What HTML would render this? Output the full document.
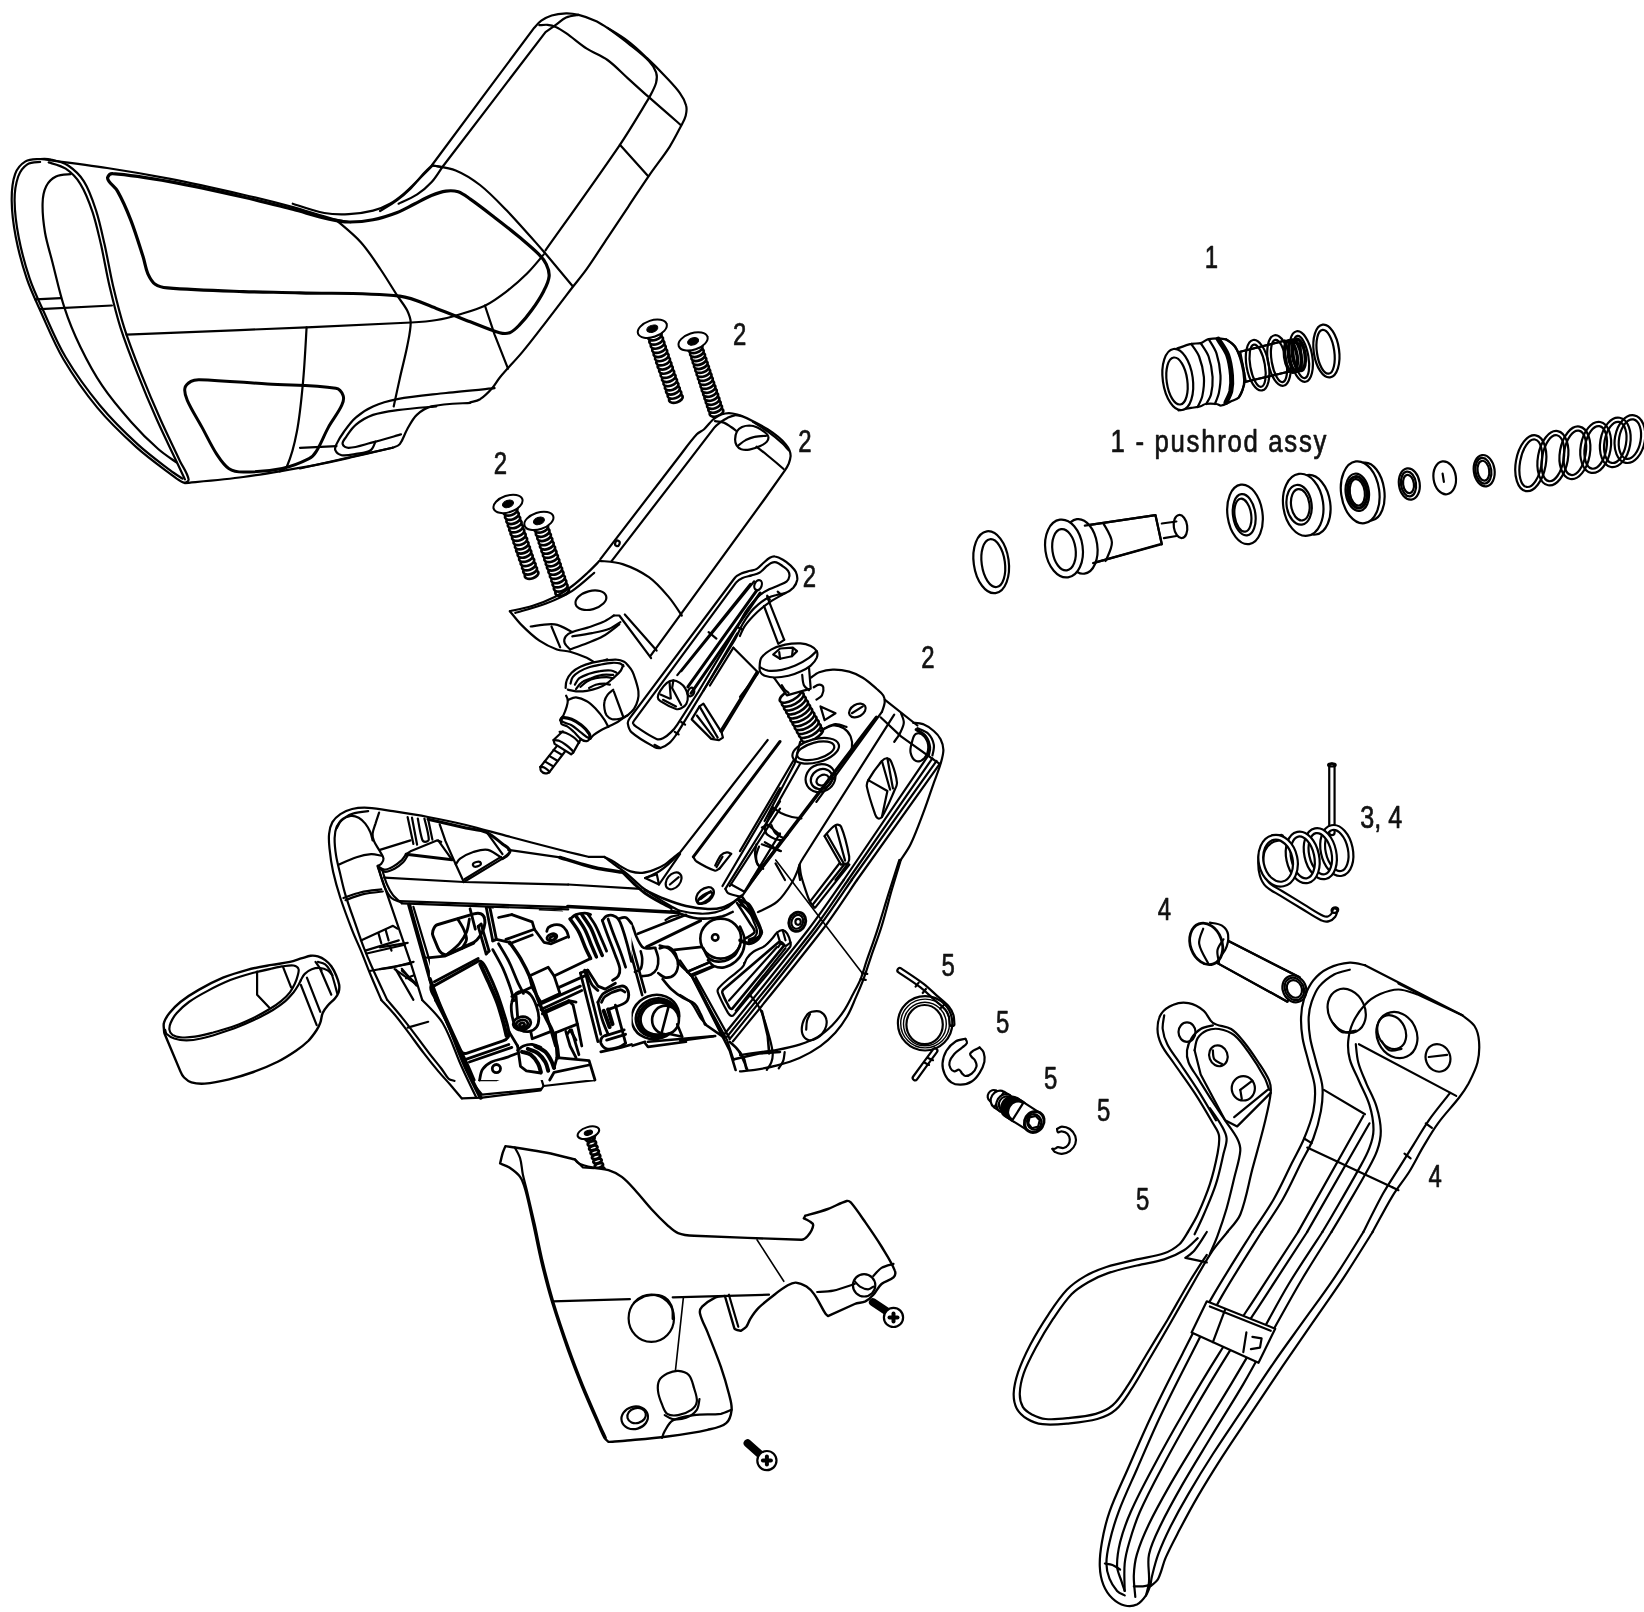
<!DOCTYPE html>
<html><head><meta charset="utf-8"><title>Exploded view</title>
<style>
html,body{margin:0;padding:0;background:#fff;}
body{width:1644px;height:1612px;overflow:hidden;}
svg{display:block;}
text{font-family:"Liberation Sans",sans-serif;fill:#111;}
</style></head><body>
<svg width="1644" height="1612" viewBox="0 0 1644 1612" stroke-linecap="round" stroke-linejoin="round">
<rect width="1644" height="1612" fill="#fff"/>
<g stroke-width="2.2" fill="none" stroke="#000">
<path d="M40.1 159.0C35.2 159.4 29.8 158.9 25.5 161.4C20.9 164.2 16.9 168.9 15.1 174.1C12.1 182.5 11.6 191.8 11.7 200.8C11.8 213.1 13.5 225.3 15.8 237.3C18.5 251.3 22.3 265.2 26.8 278.7C30.4 289.5 35.4 299.9 40.1 310.3C47.6 326.7 54.2 343.5 63.3 359.0C73.3 376.0 84.7 392.4 97.3 407.6C109.1 421.9 122.6 434.7 136.3 447.1C147.0 456.8 158.8 465.2 170.3 473.8C174.6 477.0 178.6 481.0 183.7 482.6C185.5 483.1 188.9 481.3 188.6 479.4C187.4 472.8 182.9 467.2 180.0 461.2C173.6 447.4 166.8 433.7 160.6 419.8C153.8 404.5 147.3 389.1 141.1 373.6C135.1 358.3 129.1 343.0 124.1 327.3C119.7 313.8 116.4 299.9 113.1 286.0C109.9 272.3 107.7 258.4 104.6 244.6C102.0 233.2 99.7 221.7 96.1 210.6C92.8 200.5 89.5 190.3 83.9 181.4C80.0 175.0 74.3 169.7 68.1 165.5C63.1 162.2 57.0 160.8 51.1 159.5C47.5 158.6 43.8 158.7 40.1 159.0Z"/>
<path d="M40.1 161.9C38.0 162.3 30.9 161.9 27.3 164.3C23.1 167.1 19.9 171.7 18.2 176.5C15.6 184.2 14.5 192.6 14.6 200.8C14.7 213.1 16.4 225.3 18.7 237.3C21.4 251.3 25.2 265.2 29.7 278.7C33.3 289.5 38.3 299.9 43.1 310.3C50.3 326.1 56.8 342.4 65.7 357.3C75.7 374.1 87.3 390.1 99.8 405.2C111.3 419.1 124.2 431.9 137.5 444.1C147.8 453.7 159.2 461.9 170.3 470.4C174.2 473.4 180.5 477.3 182.5 478.7"/>
<path d="M48.7 162.4C51.5 163.4 60.7 165.3 65.7 168.7C71.5 172.6 76.6 177.9 80.3 183.8C85.7 192.4 89.2 202.1 92.5 211.8C96.1 222.5 98.4 233.6 101.0 244.6C104.1 258.3 106.3 272.3 109.5 286.0C112.8 299.9 116.1 313.8 120.4 327.3C125.4 343.0 131.4 358.3 137.5 373.6C143.6 389.1 150.1 404.5 156.9 419.8C163.1 433.7 169.9 447.4 176.4 461.2C179.3 467.2 183.5 476.4 184.9 479.4"/>
<path d="M70.6 174.1C68.1 174.5 60.4 174.3 56.0 176.5C51.9 178.5 48.3 182.1 46.2 186.2C43.6 191.4 42.7 197.5 42.6 203.3C42.3 213.0 43.4 222.8 45.0 232.5C46.7 242.4 49.8 251.9 52.3 261.7C56.3 277.1 59.5 292.7 64.5 307.9C68.8 321.2 74.2 334.2 80.3 346.8C86.8 360.2 93.8 373.4 102.2 385.7C110.9 398.6 121.1 410.6 131.4 422.2C139.7 431.7 148.7 440.6 158.2 449.0C163.8 454.0 173.4 460.2 176.4 462.4"/>
<path d="M35.3 299.4L60.8 298.2"/>
<path d="M40.1 309.1L111.9 305.5"/>
<path d="M40.1 159.0C51.3 160.5 84.8 164.6 107.1 168.0C128.2 171.2 149.3 174.8 170.3 178.9C194.7 183.7 219.0 189.2 243.3 194.7C259.6 198.5 275.8 202.5 292.0 206.9C305.8 210.7 319.4 215.4 333.3 219.1C338.9 220.5 347.5 221.7 350.4 222.2"/>
<path d="M126.5 334.6C156.5 333.4 246.6 329.9 306.6 327.3C341.4 325.9 376.3 324.4 411.2 322.5C419.7 322.0 428.3 321.4 436.7 320.0C444.2 318.8 451.4 316.9 458.6 314.7C467.7 312.0 476.9 309.6 485.4 305.5C493.3 301.6 500.3 296.2 507.3 290.9C514.1 285.6 520.7 279.9 526.8 273.8C532.9 267.7 541.0 257.6 543.8 254.4"/>
<path d="M306.6 327.3C306.0 336.7 304.7 364.7 302.9 383.3C301.4 399.6 299.9 415.9 296.8 432.0C294.6 443.6 291.8 455.2 287.1 466.0C285.9 468.8 281.0 470.5 279.8 471.4"/>
<path d="M184.9 483.1C194.6 482.1 223.9 479.7 243.3 477.0C267.7 473.6 292.0 469.2 316.3 464.8C327.7 462.7 339.0 460.1 350.4 457.5C364.4 454.4 385.4 449.4 392.5 447.8"/>
</g>
<g stroke-width="3" fill="none" stroke="#000">
<path d="M199.5 379.7C222.3 380.5 244.9 382.6 267.6 384.0C290.3 385.5 313.3 384.8 335.8 388.2C339.2 388.7 341.9 392.2 343.1 395.5C344.2 398.6 343.2 402.2 341.8 405.2C338.3 413.0 332.6 419.6 328.5 427.1C324.1 435.0 321.1 443.7 316.3 451.4C314.5 454.4 312.1 457.2 309.0 458.7C300.5 463.0 291.5 466.6 282.2 468.5C269.5 471.1 256.3 472.1 243.3 472.1C238.3 472.1 232.9 471.3 228.7 468.5C223.5 464.9 220.0 459.2 216.5 453.9C211.0 445.3 206.8 436.0 201.9 427.1C197.1 418.2 191.4 409.7 187.3 400.3C185.7 396.6 184.1 392.2 184.9 388.2C185.5 385.2 188.4 382.9 191.0 381.4C193.5 379.9 196.6 379.6 199.5 379.7Z"/>
</g>
<g stroke-width="3.2" fill="none" stroke="#000">
<path d="M107.8 177.0C108.6 175.2 110.7 173.4 112.7 173.6C132.3 175.1 151.7 178.4 171.0 181.8C195.5 186.2 219.8 191.7 244.0 197.2C260.3 200.9 276.5 205.2 292.7 209.3C304.9 212.5 316.9 216.3 329.2 219.1C335.6 220.5 342.1 221.9 348.7 222.0C356.8 222.1 365.0 221.4 373.0 219.8C381.3 218.2 389.4 215.5 397.3 212.5C403.3 210.2 408.7 206.8 414.4 204.0C420.0 201.2 425.5 197.9 431.4 195.5C436.1 193.6 441.0 191.8 446.0 191.1C450.0 190.5 454.3 190.6 458.2 191.8C462.6 193.3 466.4 196.4 470.3 199.1C478.6 204.9 486.6 211.2 494.6 217.4C502.9 223.7 511.0 230.2 519.0 236.8C525.6 242.4 532.3 247.8 538.4 253.9C541.5 256.9 544.4 260.2 546.2 264.1C548.0 267.8 549.5 272.1 549.1 276.3C548.7 281.4 546.2 286.2 543.8 290.9C540.3 297.7 536.1 304.1 531.6 310.3C527.9 315.5 523.9 320.4 519.5 324.9C516.6 327.9 513.6 331.2 509.7 332.7C506.6 333.9 502.8 333.6 499.5 332.7C489.5 329.9 480.0 325.5 470.3 321.8C458.9 317.4 447.7 312.5 436.3 308.4C424.2 304.0 412.5 297.7 399.8 296.2C366.7 292.4 333.3 293.8 300.0 292.8C281.1 292.2 262.2 292.3 243.3 291.6C218.0 290.7 192.6 290.0 167.4 287.9C163.2 287.6 158.7 286.8 155.2 284.3C151.8 281.8 149.7 277.7 147.9 273.8C145.5 268.4 144.9 262.4 143.1 256.8C139.2 244.6 135.5 232.2 130.9 220.3C127.0 210.3 122.8 200.4 117.5 191.1C115.4 187.3 111.4 184.9 109.0 181.4C108.1 180.1 107.1 178.4 107.8 177.0Z"/>
</g>
<g stroke-width="2.2" fill="none" stroke="#000">
<path d="M292.7 203.7C298.0 205.3 313.5 211.0 324.3 213.0C332.3 214.5 340.6 214.6 348.7 214.2C356.9 213.8 365.0 212.6 373.0 210.6C378.9 209.1 384.7 206.7 390.0 203.7C395.3 200.8 400.0 196.9 404.6 193.0C409.8 188.7 414.4 183.7 419.2 178.9C423.7 174.5 430.4 167.8 432.6 165.5"/>
<path d="M336.5 220.3C340.6 223.9 353.5 234.1 360.8 242.2C368.2 250.4 374.1 259.8 380.3 269.0C386.2 277.7 391.6 286.8 397.3 295.7C400.5 300.6 404.4 305.1 407.1 310.3C408.9 314.1 410.7 318.2 410.7 322.5C410.7 330.7 408.6 338.8 407.1 346.8C405.0 357.4 402.1 367.9 399.8 378.4C397.7 387.8 394.7 401.8 393.7 406.4"/>
<path d="M432.6 165.5C436.5 166.4 448.4 167.4 455.7 170.4C464.5 174.0 472.6 179.2 480.0 185.0C489.7 192.6 498.2 201.7 506.8 210.6C515.2 219.2 523.1 228.4 531.1 237.3C535.6 242.3 542.3 249.9 544.5 252.4"/>
<path d="M544.5 252.4L572.5 286.0"/>
<path d="M484.9 305.5L494.6 334.6L508.0 368.7"/>
<path d="M494.6 388.2C486.5 389.0 462.2 391.2 446.0 393.0C429.7 394.9 413.4 396.2 397.3 399.1C389.0 400.7 380.7 403.0 373.0 406.4C366.8 409.1 361.0 412.9 356.0 417.4C351.2 421.5 347.5 426.8 343.8 432.0C341.0 435.8 338.5 439.9 336.5 444.1C335.6 446.0 334.4 448.3 335.3 450.2C336.3 452.6 338.8 454.6 341.4 455.1C346.2 455.9 351.1 454.7 356.0 453.9C360.9 453.0 366.3 452.9 370.6 450.2C373.3 448.5 374.6 443.1 375.4 441.7"/>
<path d="M436.3 406.4C429.8 407.0 410.2 408.3 397.3 410.1C389.1 411.2 380.8 412.2 373.0 414.9C366.8 417.1 361.0 420.5 356.0 424.7C351.9 428.0 349.2 432.6 346.2 436.8C344.7 439.1 342.0 441.5 342.6 444.1C343.1 446.4 346.3 447.9 348.7 447.8C356.1 447.5 363.3 444.8 370.6 442.9C380.8 440.3 395.9 435.8 401.0 434.4"/>
<path d="M470.3 402.8C463.8 403.4 444.1 403.5 431.4 406.4C425.9 407.7 420.9 411.1 416.8 414.9C412.5 419.0 410.0 424.5 407.1 429.5C404.3 434.2 403.2 439.9 399.8 444.1C398.1 446.3 393.7 447.2 392.5 447.8"/>
<path d="M392.5 447.8L348.7 457.5L300.0 468.5"/>
<path d="M300.0 447.8L336.5 446.1"/>
<path d="M380.0 211.0C382.8 209.2 391.3 204.5 396.5 200.6C401.7 196.9 406.5 192.7 411.0 188.2C415.5 183.7 419.2 178.4 423.4 173.7C426.1 170.8 430.3 166.8 431.7 165.5C448.8 142.5 517.0 50.8 534.1 27.9C535.3 26.7 538.5 22.7 541.3 20.7C544.5 18.5 548.0 16.6 551.7 15.5C556.3 14.1 561.3 13.6 566.1 13.4C570.3 13.3 574.5 13.9 578.6 14.9C584.2 16.3 589.8 18.3 595.1 20.7C599.5 22.6 603.4 25.4 607.5 27.9C614.5 32.3 621.7 36.4 628.2 41.4C634.8 46.4 640.8 52.2 646.8 57.9C653.2 63.9 659.4 70.1 665.4 76.5C670.4 81.9 675.6 87.1 679.9 93.1C682.6 96.8 685.0 101.0 686.1 105.5C687.0 108.8 686.5 112.5 685.7 115.8C684.8 119.5 682.7 122.8 680.9 126.2C677.3 133.1 673.8 140.2 669.6 146.8C663.1 156.8 655.6 166.0 648.9 175.8C641.8 186.0 635.1 196.5 628.2 206.8C621.3 217.2 614.4 227.5 607.5 237.8C600.6 248.2 594.0 258.7 586.8 268.9C582.3 275.3 577.1 281.3 572.3 287.5C563.4 299.2 554.5 311.0 545.5 322.6C537.9 332.4 530.6 342.2 522.7 351.6C515.4 360.4 507.3 368.5 500.0 377.2C497.1 380.7 495.1 384.9 492.1 388.2C488.5 392.2 484.6 396.2 480.1 399.2C477.2 401.0 472.0 401.8 470.4 402.3"/>
<path d="M398.6 203.7C401.7 202.2 411.4 198.2 417.2 194.4C422.5 190.9 427.4 186.7 431.7 182.0C435.7 177.6 440.3 169.9 442.0 167.5C459.3 145.0 528.2 54.6 545.5 32.1C547.2 30.9 552.4 27.2 555.8 24.8C559.2 22.4 562.3 19.3 566.1 17.6C570.0 15.9 576.5 15.3 578.6 14.9"/>
<path d="M431.7 165.5C433.4 165.7 440.3 166.8 442.0 167.1"/>
<path d="M539.3 25.2C540.6 25.2 544.8 24.5 547.5 24.8C550.4 25.1 553.2 25.7 555.8 26.9C559.5 28.5 562.8 30.8 566.1 33.1C573.2 38.0 579.6 43.9 586.8 48.6C593.4 52.9 601.1 55.4 607.5 60.0C615.0 65.4 621.3 72.4 628.2 78.6C635.1 84.8 641.9 91.1 648.9 97.2C659.5 106.6 675.6 120.5 680.9 125.1"/>
<path d="M607.5 27.9C611.0 30.5 621.5 38.0 628.2 43.4C635.3 49.1 642.6 54.5 648.9 61.0C652.0 64.2 654.7 68.1 656.1 72.4C657.2 75.7 657.0 79.4 656.1 82.7C654.6 88.2 650.1 95.7 648.9 98.2C644.0 106.0 630.2 129.7 619.9 144.8C595.7 180.4 557.9 232.7 545.5 250.3"/>
<path d="M619.9 144.8L647.8 175.8"/>
</g>
<g stroke-width="2.7" fill="#fff" stroke="#000">
<ellipse cx="675.9" cy="398.5" rx="7.1" ry="3.9" transform="rotate(161.3 675.9 398.5)"/>
<ellipse cx="674.5" cy="394.4" rx="7.1" ry="3.9" transform="rotate(161.3 674.5 394.4)"/>
<ellipse cx="673.0" cy="390.2" rx="7.1" ry="3.9" transform="rotate(161.3 673.0 390.2)"/>
<ellipse cx="671.6" cy="386.0" rx="7.1" ry="3.9" transform="rotate(161.3 671.6 386.0)"/>
<ellipse cx="670.2" cy="381.9" rx="7.1" ry="3.9" transform="rotate(161.3 670.2 381.9)"/>
<ellipse cx="668.8" cy="377.7" rx="7.1" ry="3.9" transform="rotate(161.3 668.8 377.7)"/>
<ellipse cx="667.4" cy="373.6" rx="7.1" ry="3.9" transform="rotate(161.3 667.4 373.6)"/>
<ellipse cx="666.0" cy="369.4" rx="7.1" ry="3.9" transform="rotate(161.3 666.0 369.4)"/>
<ellipse cx="664.6" cy="365.2" rx="7.1" ry="3.9" transform="rotate(161.3 664.6 365.2)"/>
<ellipse cx="663.2" cy="361.1" rx="7.1" ry="3.9" transform="rotate(161.3 663.2 361.1)"/>
<ellipse cx="661.8" cy="356.9" rx="7.1" ry="3.9" transform="rotate(161.3 661.8 356.9)"/>
<ellipse cx="660.4" cy="352.7" rx="7.1" ry="3.9" transform="rotate(161.3 660.4 352.7)"/>
<ellipse cx="659.0" cy="348.6" rx="7.1" ry="3.9" transform="rotate(161.3 659.0 348.6)"/>
<ellipse cx="657.6" cy="344.4" rx="7.1" ry="3.9" transform="rotate(161.3 657.6 344.4)"/>
<ellipse cx="656.2" cy="340.3" rx="7.1" ry="3.9" transform="rotate(161.3 656.2 340.3)"/>
<ellipse cx="654.8" cy="336.1" rx="7.1" ry="3.9" transform="rotate(161.3 654.8 336.1)"/>
</g>
<g stroke-width="1.8" fill="#000" stroke="#000">
<path d="M666.6 323.9 L661.4 333.8 L648.1 338.3 L638.0 333.5 Z"/>
</g>
<g stroke-width="2" fill="#fff" stroke="#000">
<ellipse cx="652.3" cy="328.7" rx="15.1" ry="8.3" transform="rotate(161.3 652.3 328.7)"/>
</g>
<g stroke-width="1" fill="#000" stroke="#000">
<ellipse cx="652.3" cy="328.7" rx="5.7" ry="3.5" transform="rotate(161.3 652.3 328.7)"/>
</g>
<g stroke-width="2.7" fill="#fff" stroke="#000">
<ellipse cx="716.5" cy="412.4" rx="7.1" ry="3.9" transform="rotate(161.8 716.5 412.4)"/>
<ellipse cx="715.2" cy="408.4" rx="7.1" ry="3.9" transform="rotate(161.8 715.2 408.4)"/>
<ellipse cx="713.9" cy="404.5" rx="7.1" ry="3.9" transform="rotate(161.8 713.9 404.5)"/>
<ellipse cx="712.6" cy="400.5" rx="7.1" ry="3.9" transform="rotate(161.8 712.6 400.5)"/>
<ellipse cx="711.3" cy="396.5" rx="7.1" ry="3.9" transform="rotate(161.8 711.3 396.5)"/>
<ellipse cx="710.0" cy="392.5" rx="7.1" ry="3.9" transform="rotate(161.8 710.0 392.5)"/>
<ellipse cx="708.6" cy="388.5" rx="7.1" ry="3.9" transform="rotate(161.8 708.6 388.5)"/>
<ellipse cx="707.3" cy="384.6" rx="7.1" ry="3.9" transform="rotate(161.8 707.3 384.6)"/>
<ellipse cx="706.0" cy="380.6" rx="7.1" ry="3.9" transform="rotate(161.8 706.0 380.6)"/>
<ellipse cx="704.7" cy="376.6" rx="7.1" ry="3.9" transform="rotate(161.8 704.7 376.6)"/>
<ellipse cx="703.4" cy="372.6" rx="7.1" ry="3.9" transform="rotate(161.8 703.4 372.6)"/>
<ellipse cx="702.1" cy="368.6" rx="7.1" ry="3.9" transform="rotate(161.8 702.1 368.6)"/>
<ellipse cx="700.8" cy="364.7" rx="7.1" ry="3.9" transform="rotate(161.8 700.8 364.7)"/>
<ellipse cx="699.5" cy="360.7" rx="7.1" ry="3.9" transform="rotate(161.8 699.5 360.7)"/>
<ellipse cx="698.2" cy="356.7" rx="7.1" ry="3.9" transform="rotate(161.8 698.2 356.7)"/>
<ellipse cx="696.9" cy="352.7" rx="7.1" ry="3.9" transform="rotate(161.8 696.9 352.7)"/>
<ellipse cx="695.6" cy="348.8" rx="7.1" ry="3.9" transform="rotate(161.8 695.6 348.8)"/>
</g>
<g stroke-width="1.8" fill="#000" stroke="#000">
<path d="M707.5 336.7 L702.3 346.6 L688.9 351.0 L678.8 346.1 Z"/>
</g>
<g stroke-width="2" fill="#fff" stroke="#000">
<ellipse cx="693.1" cy="341.4" rx="15.1" ry="8.3" transform="rotate(161.8 693.1 341.4)"/>
</g>
<g stroke-width="1" fill="#000" stroke="#000">
<ellipse cx="693.1" cy="341.4" rx="5.7" ry="3.5" transform="rotate(161.8 693.1 341.4)"/>
</g>
<g stroke-width="2.7" fill="#fff" stroke="#000">
<ellipse cx="531.6" cy="574.5" rx="7.1" ry="3.9" transform="rotate(161.5 531.6 574.5)"/>
<ellipse cx="530.2" cy="570.2" rx="7.1" ry="3.9" transform="rotate(161.5 530.2 570.2)"/>
<ellipse cx="528.8" cy="566.0" rx="7.1" ry="3.9" transform="rotate(161.5 528.8 566.0)"/>
<ellipse cx="527.4" cy="561.8" rx="7.1" ry="3.9" transform="rotate(161.5 527.4 561.8)"/>
<ellipse cx="525.9" cy="557.6" rx="7.1" ry="3.9" transform="rotate(161.5 525.9 557.6)"/>
<ellipse cx="524.5" cy="553.4" rx="7.1" ry="3.9" transform="rotate(161.5 524.5 553.4)"/>
<ellipse cx="523.1" cy="549.2" rx="7.1" ry="3.9" transform="rotate(161.5 523.1 549.2)"/>
<ellipse cx="521.7" cy="545.0" rx="7.1" ry="3.9" transform="rotate(161.5 521.7 545.0)"/>
<ellipse cx="520.3" cy="540.8" rx="7.1" ry="3.9" transform="rotate(161.5 520.3 540.8)"/>
<ellipse cx="518.9" cy="536.5" rx="7.1" ry="3.9" transform="rotate(161.5 518.9 536.5)"/>
<ellipse cx="517.5" cy="532.3" rx="7.1" ry="3.9" transform="rotate(161.5 517.5 532.3)"/>
<ellipse cx="516.1" cy="528.1" rx="7.1" ry="3.9" transform="rotate(161.5 516.1 528.1)"/>
<ellipse cx="514.7" cy="523.9" rx="7.1" ry="3.9" transform="rotate(161.5 514.7 523.9)"/>
<ellipse cx="513.3" cy="519.7" rx="7.1" ry="3.9" transform="rotate(161.5 513.3 519.7)"/>
<ellipse cx="511.9" cy="515.5" rx="7.1" ry="3.9" transform="rotate(161.5 511.9 515.5)"/>
<ellipse cx="510.5" cy="511.3" rx="7.1" ry="3.9" transform="rotate(161.5 510.5 511.3)"/>
</g>
<g stroke-width="1.8" fill="#000" stroke="#000">
<path d="M522.3 499.1 L517.1 509.0 L503.8 513.5 L493.7 508.7 Z"/>
</g>
<g stroke-width="2" fill="#fff" stroke="#000">
<ellipse cx="508.0" cy="503.9" rx="15.1" ry="8.3" transform="rotate(161.5 508.0 503.9)"/>
</g>
<g stroke-width="1" fill="#000" stroke="#000">
<ellipse cx="508.0" cy="503.9" rx="5.7" ry="3.5" transform="rotate(161.5 508.0 503.9)"/>
</g>
<g stroke-width="2.7" fill="#fff" stroke="#000">
<ellipse cx="562.2" cy="591.5" rx="7.1" ry="3.9" transform="rotate(161.7 562.2 591.5)"/>
<ellipse cx="560.8" cy="587.3" rx="7.1" ry="3.9" transform="rotate(161.7 560.8 587.3)"/>
<ellipse cx="559.5" cy="583.1" rx="7.1" ry="3.9" transform="rotate(161.7 559.5 583.1)"/>
<ellipse cx="558.1" cy="578.9" rx="7.1" ry="3.9" transform="rotate(161.7 558.1 578.9)"/>
<ellipse cx="556.7" cy="574.6" rx="7.1" ry="3.9" transform="rotate(161.7 556.7 574.6)"/>
<ellipse cx="555.3" cy="570.4" rx="7.1" ry="3.9" transform="rotate(161.7 555.3 570.4)"/>
<ellipse cx="553.9" cy="566.2" rx="7.1" ry="3.9" transform="rotate(161.7 553.9 566.2)"/>
<ellipse cx="552.5" cy="562.0" rx="7.1" ry="3.9" transform="rotate(161.7 552.5 562.0)"/>
<ellipse cx="551.1" cy="557.8" rx="7.1" ry="3.9" transform="rotate(161.7 551.1 557.8)"/>
<ellipse cx="549.7" cy="553.6" rx="7.1" ry="3.9" transform="rotate(161.7 549.7 553.6)"/>
<ellipse cx="548.3" cy="549.4" rx="7.1" ry="3.9" transform="rotate(161.7 548.3 549.4)"/>
<ellipse cx="546.9" cy="545.2" rx="7.1" ry="3.9" transform="rotate(161.7 546.9 545.2)"/>
<ellipse cx="545.5" cy="540.9" rx="7.1" ry="3.9" transform="rotate(161.7 545.5 540.9)"/>
<ellipse cx="544.1" cy="536.7" rx="7.1" ry="3.9" transform="rotate(161.7 544.1 536.7)"/>
<ellipse cx="542.7" cy="532.5" rx="7.1" ry="3.9" transform="rotate(161.7 542.7 532.5)"/>
<ellipse cx="541.3" cy="528.3" rx="7.1" ry="3.9" transform="rotate(161.7 541.3 528.3)"/>
</g>
<g stroke-width="1.8" fill="#000" stroke="#000">
<path d="M553.2 516.2 L548.0 526.1 L534.6 530.5 L524.6 525.7 Z"/>
</g>
<g stroke-width="2" fill="#fff" stroke="#000">
<ellipse cx="538.9" cy="520.9" rx="15.1" ry="8.3" transform="rotate(161.7 538.9 520.9)"/>
</g>
<g stroke-width="1" fill="#000" stroke="#000">
<ellipse cx="538.9" cy="520.9" rx="5.7" ry="3.5" transform="rotate(161.7 538.9 520.9)"/>
</g>
<g stroke-width="2.2" fill="white" stroke="#000">
<path d="M600.4 559.1L680.0 455.5C685.5 448.3 690.7 440.9 696.8 434.3C698.8 432.1 701.9 431.2 704.1 429.2C707.3 426.3 709.7 422.6 712.8 419.7C714.6 418.1 716.6 416.7 718.7 415.7C720.8 414.7 723.0 413.9 725.3 413.5C727.7 413.1 730.1 413.1 732.6 413.5C735.8 414.0 739.0 414.9 742.0 416.1C745.8 417.5 749.4 419.3 753.0 421.2C757.9 423.7 762.9 426.2 767.6 429.2C771.4 431.6 775.1 434.3 778.5 437.2C781.2 439.4 783.6 441.9 785.8 444.5C787.3 446.3 788.6 448.2 789.5 450.4C790.2 452.2 790.7 454.2 790.6 456.2C790.4 458.7 789.7 461.2 788.8 463.5C787.8 465.8 786.6 468.0 785.1 470.1L763.9 500.0L650.3 656.2"/>
</g>
<g stroke-width="2.2" fill="none" stroke="#000">
<path d="M611.4 561.3L680.0 472.3L714.3 427.7C716.1 425.4 718.5 423.7 720.9 421.9C722.9 420.4 725.1 419.0 727.4 417.9C729.8 416.8 732.2 415.6 734.7 415.3C737.2 415.0 740.8 416.1 742.0 416.2"/>
<path d="M715.0 421.2C716.5 421.4 721.0 421.6 723.8 422.6C726.5 423.6 728.7 425.4 731.1 427.0C733.1 428.4 736.0 430.7 736.9 431.4"/>
<path d="M736.9 431.4C738.0 429.4 740.0 428.0 742.0 427.0C744.3 426.0 746.9 425.5 749.3 425.5C752.1 425.6 754.8 426.3 757.4 427.4C760.0 428.5 762.4 430.3 764.7 432.1C766.1 433.3 767.9 434.6 768.3 436.5C768.7 438.2 768.0 440.3 766.9 441.6C765.2 443.6 762.7 444.9 760.3 446.0C756.8 447.6 753.1 449.0 749.3 449.6C746.7 450.1 743.8 450.1 741.3 449.3C739.4 448.6 737.7 447.0 736.6 445.3C735.5 443.6 735.1 441.4 735.1 439.4C735.2 436.7 735.6 433.8 736.9 431.4Z"/>
<path d="M738.4 445.3C739.6 444.4 743.1 441.5 745.7 440.1C748.5 438.7 751.4 437.5 754.5 436.9C758.3 436.0 764.2 435.9 766.1 435.8"/>
<path d="M756.6 446.7C758.5 448.2 764.0 452.5 767.6 455.5C773.0 459.9 781.0 466.7 783.6 469.0"/>
<path d="M753.0 421.9C755.4 423.5 762.9 428.0 767.6 431.4C772.6 435.0 777.5 438.9 782.2 443.1C784.6 445.3 787.7 449.1 788.8 450.4"/>
<path d="M599.6 560.8C597.6 562.8 591.8 569.0 587.6 572.8C582.6 577.4 577.7 582.0 572.3 586.0C566.7 590.1 560.9 593.9 554.7 596.9C547.7 600.4 540.3 603.3 532.8 605.7C525.3 608.1 513.7 610.3 509.9 611.2"/>
<path d="M594.2 572.8C590.5 575.8 580.2 585.7 572.3 590.8C564.1 596.0 555.1 600.0 546.0 603.5C536.0 607.4 520.4 611.3 515.3 612.9"/>
<ellipse cx="590.9" cy="600.2" rx="15.8" ry="9.2" transform="rotate(-15.0 590.9 600.2)"/>
<path d="M599.6 560.8C603.5 561.4 615.3 561.6 622.6 564.1C631.9 567.2 640.9 571.5 648.9 577.2C656.5 582.6 662.6 589.9 668.6 596.9C673.6 602.7 679.6 612.4 681.8 615.5"/>
<ellipse cx="617.4" cy="543.3" rx="2.2" ry="2.8" transform="rotate(20.0 617.4 543.3)"/>
<path d="M651.1 658.2L619.3 615.5L613.9 615.5"/>
<path d="M656.6 650.6L624.8 614.5"/>
<path d="M613.9 615.5C612.0 616.6 606.8 620.3 602.9 622.1C598.0 624.4 592.8 625.9 587.6 627.6C582.5 629.2 577.2 630.0 572.3 632.0C569.8 632.9 567.2 634.2 565.7 636.3C564.4 638.2 563.9 640.8 564.6 642.9C565.5 645.6 569.2 648.4 570.1 649.5"/>
<path d="M509.9 611.2C511.9 613.5 517.5 621.0 521.9 625.4C527.4 630.9 533.0 636.3 539.4 640.7C544.8 644.4 550.8 647.3 556.9 649.5C561.1 651.0 565.8 650.5 570.1 651.7C576.1 653.4 581.8 655.8 587.6 658.2C590.6 659.5 593.1 662.4 596.3 662.6C600.2 662.8 605.5 659.9 607.3 659.3"/>
<path d="M530.7 626.5C534.7 626.1 546.8 623.3 554.7 624.3C561.1 625.1 569.3 630.7 572.3 632.0"/>
<path d="M551.5 626.5L560.2 647.3"/>
<path d="M570.1 649.5C573.0 648.4 581.8 645.2 587.6 642.9C592.8 640.9 598.1 639.2 602.9 636.3C608.8 632.9 616.6 626.3 619.3 624.3"/>
<path d="M572.3 636.3C575.5 635.8 585.4 634.4 592.0 633.1C597.9 631.9 603.9 630.8 609.5 628.7C613.5 627.2 618.6 623.2 620.4 622.1"/>
</g>
<g stroke-width="2.2" fill="white" stroke="#000">
<path d="M565.6 688.0C565.8 686.8 565.7 682.8 566.7 680.4C567.8 677.5 569.5 674.8 571.6 672.7C574.1 670.2 577.2 668.2 580.4 666.7C584.2 664.8 588.3 663.6 592.4 662.6C596.7 661.6 601.1 661.0 605.5 660.4C609.2 660.0 612.8 659.3 616.5 659.6C619.1 659.7 621.8 660.5 624.2 661.8C626.0 662.7 627.2 664.5 628.5 666.1C630.0 667.8 631.4 669.6 632.4 671.6C633.8 674.4 634.7 677.4 635.7 680.4C636.8 684.0 638.0 687.6 638.4 691.3C638.7 694.2 638.6 697.2 637.8 700.1C637.1 703.2 635.8 706.2 634.0 708.8C632.3 711.4 629.8 713.4 627.4 715.4C626.1 716.5 624.5 717.2 623.1 718.1C621.2 719.4 619.5 720.9 617.6 722.0C614.8 723.6 611.8 724.9 608.8 726.4C605.9 727.8 602.9 729.1 600.1 730.7C597.8 732.0 595.6 733.5 593.5 735.1C592.1 736.1 591.3 738.7 589.7 738.4C586.4 737.8 584.1 734.9 581.5 732.9C578.1 730.5 575.2 727.4 571.6 725.3C568.2 723.2 563.2 723.4 560.7 720.3C559.5 718.9 562.6 717.1 563.4 715.4C564.7 712.5 565.8 709.6 566.7 706.6C567.3 704.5 567.9 702.3 567.8 700.1C567.7 698.5 566.4 696.4 566.1 695.7"/>
</g>
<g stroke-width="2.2" fill="none" stroke="#000">
<path d="M567.8 689.7C569.1 689.9 573.2 691.2 576.0 691.3C579.6 691.5 583.3 691.3 586.9 690.8C590.7 690.2 594.3 689.3 597.9 688.0C601.0 686.9 603.9 685.5 606.6 683.6C609.4 681.8 611.8 679.4 614.3 677.1C616.6 675.0 619.1 673.0 620.9 670.5C622.0 668.9 622.7 665.9 623.1 665.0"/>
<path d="M570.5 683.6C570.9 682.6 571.3 678.9 572.7 677.1C574.4 674.8 576.8 673.1 579.3 671.6C582.4 669.8 585.7 668.3 589.1 667.2C593.0 666.0 597.1 665.3 601.2 664.5C604.8 663.8 608.4 663.1 612.1 662.8C614.7 662.7 617.3 662.7 619.8 663.4C621.3 663.8 623.0 665.7 623.6 666.1"/>
<path d="M574.9 684.7C575.6 683.6 577.2 679.8 579.3 678.2C582.1 676.0 585.7 675.0 589.1 673.8C592.7 672.6 596.4 671.6 600.1 671.1C603.7 670.5 607.4 670.1 611.0 670.5C613.0 670.7 615.6 672.3 616.5 672.7"/>
<path d="M580.4 686.9C581.5 686.0 584.5 682.9 586.9 681.5C589.6 679.9 592.6 678.9 595.7 678.2C599.3 677.4 603.0 677.1 606.6 677.1C608.9 677.1 612.1 678.0 613.2 678.2"/>
<path d="M589.1 688.0C590.2 687.5 593.3 685.4 595.7 684.7C598.5 683.9 601.5 683.6 604.5 683.6C606.3 683.6 609.0 684.6 609.9 684.7"/>
<path d="M576.0 689.1C576.9 688.0 579.1 684.2 581.5 682.6C584.4 680.5 587.9 679.4 591.3 678.2C594.9 676.9 598.5 675.5 602.3 674.9C605.9 674.3 611.4 674.9 613.2 674.9"/>
<path d="M567.8 700.1C569.1 699.6 573.1 697.2 576.0 697.3C579.8 697.6 583.6 699.2 586.9 701.2C590.3 703.1 593.0 706.0 595.7 708.8C598.9 712.2 601.8 715.9 604.5 719.8C606.0 722.0 607.6 725.7 608.3 726.9"/>
<path d="M613.2 689.7C612.3 690.5 609.2 692.6 607.7 694.6C606.3 696.5 605.0 698.8 604.5 701.2C603.9 703.7 604.1 706.3 604.5 708.8C604.8 711.1 605.3 713.5 606.6 715.4C608.0 717.2 610.0 718.7 612.1 719.2C614.6 719.9 617.3 719.3 619.8 718.7C622.5 718.0 626.2 715.9 627.4 715.4"/>
<path d="M613.8 691.3L623.1 716.5"/>
</g>
<g stroke-width="3.2" fill="none" stroke="#000">
<path d="M560.7 720.3C561.0 719.9 561.7 717.7 562.8 717.6C565.8 717.3 568.9 718.1 571.6 719.2C575.2 720.7 578.5 722.8 581.5 725.3C584.4 727.6 587.0 730.4 589.1 733.5C590.1 734.9 590.0 737.6 590.2 738.4"/>
</g>
<g stroke-width="2.2" fill="none" stroke="#000">
<path d="M560.7 720.3C560.8 721.0 560.8 723.3 561.8 724.2C563.2 725.5 565.6 725.3 567.2 726.4C569.6 727.9 571.7 729.9 573.8 731.8C576.5 734.3 578.5 737.4 581.5 739.5C583.0 740.6 585.0 741.4 586.9 741.1C588.3 741.0 589.7 738.9 590.2 738.4"/>
<path d="M562.8 731.3L553.5 740.0L554.6 743.9L571.1 754.3L573.2 752.6L580.9 738.9"/>
<path d="M553.5 740.0C554.4 740.1 556.9 740.0 558.5 740.6C561.2 741.7 563.7 743.2 566.1 745.0C568.3 746.5 570.3 748.5 572.2 750.4C572.7 751.0 573.1 752.3 573.2 752.6"/>
<path d="M559.6 731.8C560.7 732.0 564.1 732.1 566.1 732.9C568.9 734.0 571.4 735.5 573.8 737.3C575.9 738.8 578.4 741.9 579.3 742.8"/>
<path d="M556.8 746.1L540.4 766.9"/>
<path d="M565.0 751.5L549.2 772.3"/>
<path d="M540.4 766.9C540.5 767.5 540.2 769.7 540.9 770.7C542.0 772.1 543.6 773.1 545.3 773.4C546.6 773.7 548.5 772.5 549.2 772.3"/>
<path d="M540.4 766.9C541.0 767.0 543.1 766.9 544.2 767.4C545.9 768.2 547.3 769.4 548.6 770.7C549.0 771.1 549.1 772.1 549.2 772.3"/>
<path d="M553.5 749.9L561.8 754.8"/>
<path d="M549.2 755.9L557.4 760.8"/>
<path d="M544.8 761.4L553.0 766.3"/>
</g>
<g stroke-width="2.2" fill="white" stroke="#000">
<path d="M627.8 723.3C627.6 721.5 628.7 719.6 629.8 718.1L734.7 578.0C736.2 575.9 738.8 574.6 741.2 573.5C744.0 572.1 747.3 571.7 750.3 570.8C752.5 570.2 754.9 570.1 756.8 568.9C759.3 567.4 761.1 564.9 763.3 563.0C765.4 561.2 767.4 559.2 769.8 557.8C771.4 556.9 773.3 556.2 775.0 556.5C777.8 556.9 780.4 558.3 782.9 559.8C785.7 561.4 788.3 563.4 790.7 565.6C792.7 567.6 794.7 569.6 795.9 572.1C797.0 574.6 797.6 577.4 797.2 580.0C796.7 582.8 795.2 585.6 793.3 587.8C791.2 590.1 788.4 591.8 785.5 593.0C782.6 594.2 779.3 594.1 776.4 595.0C773.2 595.8 770.1 596.7 767.2 598.2C763.9 600.0 761.0 602.3 758.1 604.7C755.3 607.1 752.6 609.7 750.3 612.5C747.4 616.2 744.8 620.2 742.5 624.3C739.6 629.3 737.7 634.9 734.7 639.9L703.4 690.7L682.5 724.6C680.4 728.1 678.4 731.7 676.0 735.0C674.1 737.8 672.1 740.7 669.5 742.8C666.8 745.1 663.8 747.2 660.4 748.0C658.2 748.6 655.8 747.8 653.9 746.7C646.2 742.5 638.3 738.3 631.7 732.4C629.3 730.2 628.3 726.6 627.8 723.3Z"/>
</g>
<g stroke-width="2.2" fill="none" stroke="#000">
<path d="M633.0 723.3C632.7 721.9 634.1 720.6 635.0 719.4L736.0 582.6C737.5 580.4 740.1 579.1 742.5 578.0C745.3 576.7 748.6 576.3 751.6 575.4C754.2 574.6 757.0 574.2 759.4 572.8C761.9 571.3 763.7 568.8 765.9 566.9C767.6 565.5 769.2 563.9 771.1 563.0C772.7 562.3 774.7 561.9 776.4 562.4C778.8 563.1 780.8 564.8 782.9 566.3C784.7 567.6 786.8 568.9 788.1 570.8C789.1 572.3 789.6 574.3 789.4 576.1C789.1 578.0 788.2 580.0 786.8 581.3C784.6 583.2 781.6 584.0 779.0 585.2C776.0 586.6 772.8 587.6 769.8 589.1C766.7 590.7 763.5 592.2 760.7 594.3C757.8 596.5 755.3 599.3 752.9 602.1C750.1 605.4 747.4 608.9 745.1 612.5C742.2 617.1 740.1 622.2 737.3 626.9L698.2 692.0L677.3 724.6C675.5 727.4 673.3 730.1 670.8 732.4C668.5 734.7 666.0 736.9 663.0 738.3C661.0 739.2 658.5 739.8 656.5 738.9C649.5 736.0 643.3 731.4 636.9 727.2C635.4 726.2 633.5 725.1 633.0 723.3Z"/>
<path d="M681.2 671.2L754.2 581.3"/>
<path d="M677.3 675.1L750.3 583.9"/>
</g>
<g stroke-width="3" fill="none" stroke="#000">
<path d="M687.8 686.8L756.8 590.4"/>
<path d="M691.0 693.3L760.1 593.0"/>
</g>
<g stroke-width="2.2" fill="none" stroke="#000">
<ellipse cx="758.1" cy="585.2" rx="3.6" ry="5.2" transform="rotate(20.0 758.1 585.2)"/>
<ellipse cx="691.0" cy="692.0" rx="3.1" ry="4.4" transform="rotate(20.0 691.0 692.0)"/>
<path d="M703.4 690.7L737.3 633.4"/>
<path d="M709.9 685.5L733.4 647.7"/>
<path d="M708.6 632.1L716.4 638.6"/>
<path d="M737.3 626.9L742.5 629.5"/>
<path d="M767.2 595.6L769.8 599.5"/>
<path d="M777.7 591.7L781.6 595.0"/>
<path d="M681.2 722.0L685.1 724.6"/>
<path d="M674.7 731.8L678.6 734.4"/>
<path d="M654.5 744.8L660.4 748.0"/>
<path d="M657.8 697.2C657.8 694.9 659.1 692.7 660.4 690.7C662.2 687.9 664.3 685.0 666.9 682.9C668.7 681.4 671.1 680.3 673.4 680.3C675.8 680.3 678.0 681.6 679.9 682.9C682.0 684.3 683.9 686.0 685.1 688.1C686.6 690.5 687.5 693.2 687.8 695.9C688.0 698.6 687.7 701.4 686.4 703.7C685.4 705.8 683.3 707.3 681.2 708.3C679.7 709.1 677.7 709.5 676.0 709.0C670.5 707.1 665.3 704.3 660.4 701.1C659.1 700.3 657.8 698.8 657.8 697.2Z"/>
<path d="M669.5 681.6L670.8 698.5"/>
<path d="M673.4 680.3L672.1 688.1L681.2 705.0"/>
<path d="M660.4 694.6L669.5 698.5"/>
<path d="M663.0 699.8L676.0 706.4"/>
</g>
<g stroke-width="2.2" fill="white" stroke="#000">
<path d="M691.7 719.4L699.5 706.4L703.4 703.7L721.6 732.4L722.9 737.6L719.0 740.2L711.2 738.9Z"/>
</g>
<g stroke-width="2.2" fill="none" stroke="#000">
<path d="M699.5 706.4L717.7 737.6"/>
<path d="M696.9 715.5L713.8 737.6"/>
<path d="M733.4 647.7L758.1 672.5"/>
<path d="M758.1 672.5L721.6 732.4"/>
<path d="M756.8 671.8L720.3 731.1"/>
<path d="M767.2 596.9L784.2 639.9"/>
<path d="M764.0 606.0L778.3 643.8L784.2 639.9"/>
<path d="M785.5 593.0C782.9 594.5 774.8 598.7 769.8 602.1C765.2 605.3 760.8 608.7 756.8 612.5C752.6 616.6 748.5 620.8 745.1 625.6C742.8 628.7 740.7 634.3 739.9 636.0"/>
</g>
<g stroke-width="2.6" fill="#fff" stroke="#000">
<ellipse cx="812.1" cy="734.6" rx="12.1" ry="5.1" transform="rotate(151.3 812.1 734.6)"/>
<ellipse cx="809.9" cy="730.6" rx="12.1" ry="5.1" transform="rotate(151.3 809.9 730.6)"/>
<ellipse cx="807.8" cy="726.7" rx="12.1" ry="5.1" transform="rotate(151.3 807.8 726.7)"/>
<ellipse cx="805.6" cy="722.8" rx="12.1" ry="5.1" transform="rotate(151.3 805.6 722.8)"/>
<ellipse cx="803.5" cy="718.9" rx="12.1" ry="5.1" transform="rotate(151.3 803.5 718.9)"/>
<ellipse cx="801.3" cy="715.0" rx="12.1" ry="5.1" transform="rotate(151.3 801.3 715.0)"/>
<ellipse cx="799.2" cy="711.1" rx="12.1" ry="5.1" transform="rotate(151.3 799.2 711.1)"/>
<ellipse cx="797.1" cy="707.1" rx="12.1" ry="5.1" transform="rotate(151.3 797.1 707.1)"/>
<ellipse cx="794.9" cy="703.2" rx="12.1" ry="5.1" transform="rotate(151.3 794.9 703.2)"/>
<ellipse cx="792.8" cy="699.3" rx="12.1" ry="5.1" transform="rotate(151.3 792.8 699.3)"/>
<ellipse cx="790.6" cy="695.4" rx="12.1" ry="5.1" transform="rotate(151.3 790.6 695.4)"/>
</g>
<g stroke-width="2.2" fill="white" stroke="#000">
<path d="M773.2 676.6L809.0 667.3L810.7 688.6L786.9 695.4Z"/>
<path d="M759.6 668.1C759.8 664.7 759.5 660.8 761.3 657.9C763.7 654.2 767.7 651.6 771.5 649.4C775.7 647.1 780.5 645.6 785.2 644.6C790.2 643.6 795.4 643.2 800.5 643.4C804.0 643.6 807.5 644.5 810.7 646.0C813.1 647.1 815.5 648.8 816.7 651.1C817.7 653.1 817.5 655.8 816.7 657.9C815.4 660.9 813.2 663.5 810.7 665.6C807.7 668.1 804.1 669.9 800.5 671.5C796.7 673.3 792.7 674.8 788.6 675.8C784.1 676.8 779.5 677.5 774.9 677.5C771.5 677.5 768.0 676.9 764.7 675.8C763.0 675.2 761.5 673.9 760.5 672.4C759.7 671.2 759.5 669.6 759.6 668.1Z"/>
</g>
<g stroke-width="2.2" fill="none" stroke="#000">
<path d="M760.0 667.3C761.3 667.8 765.2 670.3 768.1 670.7C772.7 671.2 777.3 670.7 781.8 669.8C786.4 669.0 791.0 667.5 795.4 665.6C800.2 663.5 804.7 660.9 809.0 657.9C811.8 656.0 815.3 652.2 816.5 651.1"/>
<path d="M773.2 654.5L780.1 648.5L792.8 647.7L797.1 651.1L792.0 656.2L780.1 658.8Z"/>
<path d="M780.1 658.8L779.2 652.0"/>
<path d="M792.0 656.2L792.8 649.4"/>
<path d="M781.8 685.2C782.3 686.0 783.8 688.7 785.2 690.3C786.1 691.3 788.0 692.4 788.6 692.8"/>
<path d="M802.2 674.9C802.5 676.6 802.5 682.0 803.9 685.2C804.9 687.4 808.2 689.4 809.0 690.3"/>
<path d="M568.2 852.0C558.4 849.5 529.2 841.9 509.8 836.7C495.2 832.9 480.7 828.6 466.0 825.0C453.4 822.0 440.7 819.4 428.0 817.0C416.4 814.8 404.7 813.0 393.0 811.2C384.7 809.9 376.5 808.3 368.2 807.8C362.8 807.5 357.4 807.8 352.1 809.0C348.0 809.9 344.0 811.7 340.4 814.1C337.3 816.2 334.3 818.8 332.4 822.1C330.4 825.6 329.5 829.8 329.1 833.8C328.5 838.6 329.0 843.6 329.5 848.4C330.3 856.2 331.4 864.1 333.1 871.8C335.1 880.6 337.6 889.4 340.4 898.0C344.0 908.9 348.0 919.5 352.1 930.1C354.8 937.1 358.0 943.7 360.9 950.6C363.9 957.8 366.6 965.2 369.6 972.5C373.4 981.7 379.4 995.4 381.3 999.9"/>
<path d="M368.2 811.2C365.7 811.5 358.3 812.0 353.6 813.4C349.9 814.4 346.4 816.1 343.4 818.5C340.6 820.6 338.2 823.3 336.8 826.5C335.2 830.1 334.7 834.2 334.6 838.2C334.5 844.0 335.2 849.9 336.1 855.7C336.9 861.1 338.4 866.4 339.7 871.8C341.6 879.6 343.2 887.4 345.5 895.1C348.8 905.9 352.8 916.5 356.5 927.2C358.9 934.1 361.2 940.9 363.8 947.7C366.1 953.6 368.5 959.4 371.1 965.2C376.3 976.8 384.5 994.1 387.2 999.9"/>
</g>
<g stroke-width="3" fill="none" stroke="#000">
<path d="M428.0 819.2C434.4 820.7 453.3 825.1 466.0 828.0C472.8 829.5 480.0 829.5 486.4 832.3C492.5 835.0 497.2 840.0 502.5 844.0C505.0 845.9 508.2 847.1 509.8 849.9C510.5 851.2 509.3 853.1 508.3 854.2C506.8 856.1 503.5 857.9 502.5 858.6"/>
</g>
<g stroke-width="2.2" fill="none" stroke="#000">
<path d="M508.3 849.9L560.0 857.4"/>
<path d="M379.1 812.6C378.5 814.5 376.6 819.9 375.5 823.6C374.4 827.0 372.8 830.3 372.6 833.8C372.3 836.3 373.1 838.8 374.0 841.1C375.5 844.7 378.0 847.9 379.9 851.3C381.1 853.7 383.2 855.9 383.5 858.6C383.7 860.5 382.5 862.3 381.3 863.7C380.4 864.8 378.3 865.5 377.7 865.9"/>
<path d="M336.8 828.0C337.6 826.6 339.5 822.0 341.9 819.9C344.3 817.8 347.5 816.4 350.7 816.0C353.4 815.6 356.3 816.5 358.7 817.7C361.3 819.1 363.4 821.3 365.3 823.6C367.4 826.2 369.0 829.2 370.4 832.3C371.5 834.9 372.2 839.0 372.6 840.4"/>
<path d="M379.9 849.9L410.5 840.4"/>
<path d="M339.0 864.5C341.9 863.2 350.5 859.1 356.5 857.2C361.2 855.6 366.1 854.5 371.1 854.2C374.5 854.0 379.6 855.5 381.3 855.7"/>
<path d="M377.7 865.9C378.8 866.5 381.7 869.4 384.2 869.6C387.3 869.7 390.3 868.1 393.0 866.6C396.2 864.9 399.1 862.6 401.8 860.1C403.5 858.4 405.4 855.2 406.1 854.2"/>
<path d="M379.9 868.8C380.7 869.3 383.0 871.8 385.0 871.8C388.3 871.8 391.5 870.4 394.5 868.8C397.7 867.1 400.6 864.8 403.2 862.3C405.1 860.4 406.9 856.8 407.6 855.7"/>
<path d="M406.1 854.2L410.5 851.3L436.8 840.4L441.2 841.8"/>
<path d="M407.6 817.0L413.4 844.0"/>
<path d="M412.0 817.7L417.1 844.7"/>
<path d="M417.8 818.5C418.5 822.0 420.0 832.8 422.2 839.6C422.6 840.8 423.9 841.8 425.1 841.8C426.5 841.8 428.8 841.1 428.8 839.6C428.5 832.4 425.1 822.0 424.4 818.5"/>
<path d="M428.0 818.5L432.4 839.6"/>
<path d="M439.7 824.3L445.5 841.1L455.8 864.5L463.8 882.0"/>
</g>
<g stroke-width="3" fill="none" stroke="#000">
<path d="M406.1 854.2L452.1 859.8"/>
</g>
<g stroke-width="2.2" fill="none" stroke="#000">
<path d="M438.2 840.4L452.1 859.8"/>
<path d="M455.8 864.5C456.5 863.5 458.2 860.0 460.1 858.6C464.1 855.8 468.6 853.5 473.3 852.0C478.0 850.6 483.1 848.8 487.9 849.9C493.4 851.1 500.0 857.2 502.5 858.6"/>
<path d="M463.8 882.0L502.5 858.6"/>
<path d="M464.5 879.3L501.0 856.9"/>
<ellipse cx="476.9" cy="864.2" rx="4.1" ry="2.3" transform="rotate(-15.0 476.9 864.2)"/>
<path d="M487.9 833.8L502.5 854.2"/>
<path d="M384.2 877.6L463.8 882.0L568.2 884.6"/>
<path d="M399.6 901.2L568.2 907.2"/>
<path d="M401.8 903.4L568.2 909.4"/>
<path d="M378.4 867.4C378.9 869.1 380.2 874.2 381.3 877.6C382.6 881.5 383.8 885.6 385.7 889.3C387.3 892.4 388.9 895.7 391.5 898.0C393.7 900.0 398.2 901.1 399.6 901.7"/>
<path d="M382.8 871.8C383.5 873.9 385.3 880.7 387.2 884.9C388.7 888.5 390.5 892.0 393.0 895.1C395.5 898.2 400.3 901.8 401.8 903.1"/>
<path d="M377.7 866.6L410.5 962.3L422.2 999.9"/>
</g>
<g stroke-width="4" fill="none" stroke="#000">
<path d="M409.1 904.6L436.1 999.9"/>
</g>
<g stroke-width="2.2" fill="none" stroke="#000">
<path d="M413.4 906.8L441.2 999.9"/>
<path d="M343.4 898.0C346.3 897.1 354.9 893.6 360.9 892.2C367.6 890.6 377.9 889.8 381.3 889.3"/>
<path d="M345.5 900.2C348.3 899.2 356.6 895.7 362.3 894.4C369.0 892.8 379.4 891.9 382.8 891.5"/>
<path d="M360.9 940.4L393.0 925.8L397.4 928.7"/>
<path d="M365.3 950.6L398.8 940.4"/>
<path d="M366.7 953.5L404.7 944.7"/>
<path d="M369.6 971.0L410.5 963.7"/>
<path d="M378.4 933.1L381.3 943.3"/>
<path d="M385.7 930.1L388.6 940.4"/>
<path d="M390.1 946.2L391.5 950.6"/>
<path d="M395.9 969.6L413.4 999.9"/>
<path d="M401.8 968.8L416.4 985.6"/>
<path d="M406.1 978.3L413.4 975.4"/>
<path d="M433.9 927.2C443.4 921.3 455.0 919.5 466.0 917.0C467.9 916.6 470.4 917.0 471.8 918.5C474.6 921.2 477.2 924.8 477.7 928.7C478.2 933.1 477.2 938.1 474.7 941.8C472.0 945.9 467.4 948.3 463.1 950.6C458.0 953.2 452.7 956.0 447.0 956.4C444.6 956.6 442.4 954.2 441.2 952.0C438.3 947.1 436.9 941.4 435.3 936.0C434.5 933.1 431.4 928.8 433.9 927.2Z"/>
<path d="M445.5 955.0C447.7 953.0 455.0 947.8 458.7 943.3C461.9 939.4 463.9 934.7 466.0 930.1C467.8 926.4 469.6 920.4 470.4 918.5"/>
<path d="M455.8 921.4L460.1 933.1"/>
<path d="M487.9 906.8L499.6 944.7"/>
<path d="M492.3 907.5L503.9 943.3"/>
<path d="M471.8 912.6L485.0 909.7L489.3 921.4"/>
</g>
<g stroke-width="3.5" fill="none" stroke="#000">
<path d="M476.2 925.8L485.0 955.0"/>
<path d="M480.6 924.3L489.3 953.5"/>
</g>
<g stroke-width="2.2" fill="none" stroke="#000">
<path d="M485.0 955.0L489.3 953.5"/>
<path d="M470.4 949.1L474.7 960.8L466.0 965.2L430.9 956.4"/>
<path d="M474.7 960.8L439.7 978.3L435.3 979.8"/>
<path d="M493.7 918.5L517.1 912.6"/>
<path d="M508.3 936.0L534.6 929.4L541.9 937.4L547.7 933.8"/>
<ellipse cx="552.1" cy="934.5" rx="5.8" ry="4.1" transform="rotate(-60.0 552.1 934.5)"/>
<ellipse cx="552.1" cy="934.5" rx="3.2" ry="2.0" transform="rotate(-60.0 552.1 934.5)"/>
<path d="M499.6 944.7C502.0 946.9 510.4 952.5 514.2 957.9C518.8 964.5 521.5 972.3 524.4 979.8C526.9 986.3 529.2 996.6 530.2 999.9"/>
<path d="M492.3 955.0C494.7 957.9 503.4 965.7 506.9 972.5C511.3 981.0 514.2 995.4 515.6 999.9"/>
<path d="M480.6 962.3C482.5 965.2 488.9 973.6 492.3 979.8C495.8 986.2 499.6 996.6 501.0 999.9"/>
<path d="M508.3 940.4L536.1 934.5"/>
<path d="M527.3 976.9L547.7 966.6L553.6 978.3"/>
<path d="M530.2 985.6L550.7 975.4"/>
<path d="M381.3 999.9C383.5 1002.3 390.4 1009.4 394.6 1014.5C399.7 1020.6 404.4 1027.1 409.2 1033.4C414.1 1040.0 418.8 1046.7 423.8 1053.1C428.5 1059.3 433.4 1065.4 438.4 1071.4C442.2 1075.9 446.2 1080.1 450.1 1084.5C454.0 1089.1 459.8 1096.1 461.8 1098.4"/>
<path d="M461.8 1098.4L482.2 1097.7L540.6 1090.4L543.5 1086.0L594.6 1080.1L590.2 1068.5L581.5 1059.7"/>
<path d="M387.2 999.9C389.6 1002.8 397.1 1011.4 401.9 1017.4C406.9 1023.6 411.7 1030.0 416.5 1036.4C420.9 1042.2 425.2 1048.1 429.6 1053.9C433.4 1058.8 437.5 1063.5 441.3 1068.5C443.9 1071.8 445.6 1075.8 448.6 1078.7C450.1 1080.1 453.5 1080.5 454.5 1080.9"/>
</g>
<g stroke-width="4" fill="none" stroke="#000">
<path d="M436.1 999.9C438.2 1004.0 444.8 1016.2 448.6 1024.7C452.4 1033.3 455.3 1042.2 458.8 1050.9C461.6 1057.8 464.4 1064.7 467.6 1071.4C471.7 1080.3 478.5 1093.3 480.7 1097.7"/>
</g>
<g stroke-width="2.2" fill="none" stroke="#000">
<path d="M422.2 999.9C425.6 1003.7 437.5 1014.3 442.8 1023.2C450.8 1036.9 455.2 1052.5 461.8 1067.0C466.4 1077.3 473.9 1092.6 476.4 1097.7"/>
<path d="M441.2 999.9C443.6 1006.7 450.6 1027.3 455.9 1040.7C458.9 1048.2 464.4 1059.0 466.1 1062.6"/>
</g>
<g stroke-width="2.6" fill="none" stroke="#000">
<path d="M434.0 982.3L479.3 959.0C482.8 957.2 483.5 965.6 485.1 969.2C489.4 978.8 493.0 988.6 496.8 998.4C499.8 1006.1 503.2 1013.8 505.5 1021.8C507.4 1027.9 509.2 1034.3 509.2 1040.7C509.2 1042.6 507.4 1044.6 505.5 1045.1L467.6 1056.8C464.2 1057.8 463.3 1051.2 461.8 1048.0C457.0 1038.5 452.8 1028.7 448.6 1018.8C443.5 1006.8 422.4 988.3 434.0 982.3Z"/>
</g>
<g stroke-width="2.2" fill="none" stroke="#000">
<path d="M434.0 976.5L473.4 956.1"/>
</g>
<g stroke-width="4" fill="none" stroke="#000">
<path d="M480.7 961.9C482.4 966.3 487.6 979.4 490.9 988.2C494.4 997.4 498.3 1006.5 501.2 1015.9C503.7 1024.0 506.0 1036.6 507.0 1040.7"/>
</g>
<g stroke-width="2.2" fill="none" stroke="#000">
<path d="M485.1 954.6C487.1 958.2 493.3 969.0 496.8 976.5C501.1 986.0 505.4 995.7 508.5 1005.7C511.2 1014.7 512.8 1024.1 514.3 1033.4C515.2 1039.2 515.5 1048.0 515.8 1050.9"/>
<path d="M495.3 948.8C497.5 953.4 504.8 966.9 508.5 976.5C512.1 986.0 515.8 1000.8 517.2 1005.7"/>
<path d="M464.7 1058.2L507.0 1045.1"/>
<path d="M467.6 1062.6L511.4 1048.0"/>
<path d="M461.8 1048.0L466.1 1059.7"/>
<path d="M479.3 1080.1C479.8 1078.7 480.5 1073.9 482.2 1071.4C484.5 1068.0 487.4 1064.8 490.9 1062.6C496.3 1059.3 505.5 1056.5 508.5 1055.3"/>
<path d="M479.3 1080.1L496.8 1080.1L517.2 1071.4"/>
<ellipse cx="496.5" cy="1068.5" rx="3.6" ry="3.6"/>
<path d="M474.9 1086.0L482.2 1094.7L540.6 1088.9"/>
<path d="M511.4 1001.3C511.9 998.5 513.6 995.8 515.8 994.0C517.7 992.4 520.6 991.3 523.1 991.8C526.0 992.4 528.5 994.6 530.4 996.9C533.0 1000.4 534.7 1004.5 536.2 1008.6C537.4 1011.9 538.7 1015.4 538.4 1018.8C538.2 1022.0 537.0 1025.4 534.7 1027.6C532.5 1029.7 529.1 1030.5 526.0 1030.5C522.9 1030.5 519.4 1029.8 517.2 1027.6C514.1 1024.5 512.3 1020.2 511.4 1015.9C510.3 1011.2 510.4 1006.1 511.4 1001.3Z"/>
<ellipse cx="522.3" cy="1023.9" rx="7.3" ry="5.1"/>
<ellipse cx="522.3" cy="1023.9" rx="4.4" ry="2.9"/>
<ellipse cx="522.3" cy="1023.9" rx="1.8" ry="1.3"/>
<path d="M517.2 995.5L520.1 1018.8"/>
</g>
<g stroke-width="4" fill="none" stroke="#000">
<path d="M523.1 1052.4C524.3 1053.1 528.6 1054.6 530.4 1056.8C532.7 1059.7 533.5 1063.5 534.7 1067.0C535.2 1068.4 535.4 1070.7 535.5 1071.4"/>
<path d="M528.9 1049.5C530.2 1050.5 534.9 1052.7 536.9 1055.3C539.2 1058.3 540.2 1062.0 541.3 1065.5C541.9 1067.4 541.9 1070.4 542.0 1071.4"/>
<path d="M534.7 1046.6C536.2 1047.7 541.3 1050.2 543.5 1053.1C545.9 1056.3 546.7 1060.3 547.9 1064.1C548.5 1066.0 548.5 1069.0 548.6 1069.9"/>
</g>
<g stroke-width="2.2" fill="none" stroke="#000">
<path d="M540.6 1008.6L568.3 998.4L574.2 1008.6L578.5 1021.8"/>
<path d="M545.0 1013.0L555.2 1049.5L558.1 1055.3"/>
<path d="M568.3 998.4L577.1 1004.2"/>
<path d="M555.2 1033.4L568.3 1027.6L574.2 1045.1"/>
<path d="M566.9 1033.4L574.2 1056.8"/>
<path d="M530.4 976.5L549.3 966.3L555.2 975.0L559.6 992.6L540.6 1001.3"/>
<path d="M530.4 976.5L533.3 988.2"/>
<path d="M552.3 970.7L581.5 959.0"/>
<path d="M556.6 982.3L584.4 970.7"/>
<path d="M540.6 1004.2L580.0 989.6"/>
<path d="M543.5 1086.0L539.1 1071.4"/>
<path d="M549.3 1071.4L581.5 1059.7"/>
<path d="M515.8 1048.0L520.1 1071.4L518.7 1074.3L536.2 1068.5"/>
<path d="M580.0 973.6C580.7 976.0 583.1 983.3 584.4 988.2C586.5 996.4 588.1 1004.8 590.2 1013.0C592.0 1019.9 593.4 1026.9 596.1 1033.4C597.4 1036.7 600.9 1040.7 601.9 1042.2"/>
<path d="M587.3 969.2C588.3 972.4 591.4 981.8 593.1 988.2C595.3 996.4 598.0 1008.9 599.0 1013.0"/>
</g>
<g stroke-width="4" fill="none" stroke="#000">
<path d="M599.0 1001.3C599.5 1003.3 600.3 1009.3 601.9 1013.0C603.3 1016.2 606.8 1020.3 607.7 1021.8"/>
<path d="M604.8 998.4C605.5 1000.3 607.3 1006.4 609.2 1010.1C610.8 1013.2 614.1 1017.4 615.0 1018.8"/>
</g>
<g stroke-width="2.2" fill="none" stroke="#000">
<path d="M599.0 1033.4L620.0 1026.1"/>
<path d="M601.9 1042.2L620.0 1034.9"/>
<path d="M597.5 1045.1C599.2 1046.1 603.8 1050.4 607.7 1050.9C611.9 1051.5 618.0 1048.5 620.0 1048.0"/>
<path d="M587.3 948.8C588.3 950.2 590.8 954.9 593.1 957.5C594.8 959.3 598.0 961.2 599.0 961.9"/>
<path d="M590.2 980.9C591.2 982.1 593.1 987.2 596.1 988.2C599.8 989.4 603.9 987.6 607.7 986.7C612.0 985.7 618.0 983.1 620.0 982.3"/>
<path d="M594.6 975.0C595.3 976.3 596.1 982.2 599.0 982.3C606.2 982.8 616.5 977.5 620.0 976.5"/>
<path d="M380.0 969.2L391.7 967.7L413.6 961.9"/>
<path d="M394.6 969.2L413.6 982.3"/>
<path d="M401.9 970.7L416.5 983.8"/>
<path d="M380.0 947.3L407.7 942.9"/>
<path d="M407.7 1027.6L428.2 1021.8"/>
<path d="M423.8 957.5L444.2 958.2L473.4 948.8L474.9 956.1"/>
<path d="M474.9 956.1L480.7 954.6"/>
<path d="M568.3 1064.1L572.7 1055.3L577.1 1064.1"/>
<path d="M571.2 1030.5L577.1 1050.9"/>
</g>
<g stroke-width="3.5" fill="none" stroke="#000">
<path d="M567.7 906.4L678.7 912.6"/>
</g>
<g stroke-width="2.6" fill="none" stroke="#000">
<path d="M540.0 910.4L561.9 911.9"/>
<path d="M645.1 890.0C648.3 891.5 657.6 896.2 664.1 898.8C671.2 901.6 678.5 904.3 686.0 906.1C693.2 907.7 700.5 908.7 707.9 909.0C712.8 909.2 717.8 908.8 722.5 907.5C726.7 906.4 730.5 904.0 734.2 901.7C736.8 900.0 740.2 896.8 741.5 895.8"/>
<path d="M671.4 910.4C675.0 911.7 685.8 916.1 693.3 917.7C698.0 918.8 703.0 918.7 707.9 918.5C712.8 918.2 717.7 917.5 722.5 916.3C726.1 915.3 731.0 912.6 732.7 911.9"/>
<ellipse cx="705.0" cy="898.0" rx="8.8" ry="3.2" transform="rotate(-35.0 705.0 898.0)"/>
<path d="M741.5 895.8C742.4 897.3 745.6 901.6 747.3 904.6C751.4 911.8 755.1 919.2 759.0 926.5C760.0 928.4 761.9 930.2 761.9 932.3C761.9 934.1 760.4 935.7 759.0 936.7C755.9 938.8 750.5 940.4 748.8 941.1"/>
<path d="M737.1 903.1C739.3 906.5 745.9 916.7 750.2 923.6C751.7 926.0 753.8 928.1 754.6 930.9C754.9 931.9 754.0 933.1 753.1 933.8C751.0 935.6 747.1 937.4 745.8 938.2"/>
<path d="M780.0 932.3C778.0 934.3 771.8 940.1 767.7 944.0C763.8 947.9 760.3 952.2 756.1 955.7C752.5 958.6 746.3 961.8 744.4 963.0"/>
</g>
<g stroke-width="2.6" fill="white" stroke="#000">
<ellipse cx="720.7" cy="938.6" rx="20.4" ry="20.0"/>
</g>
<g stroke-width="2.6" fill="none" stroke="#000">
<ellipse cx="715.2" cy="937.4" rx="3.2" ry="3.2"/>
<path d="M703.5 948.4C704.5 950.1 706.2 956.3 709.3 958.6C712.6 961.0 717.0 962.0 721.0 961.5C725.8 961.0 730.5 958.8 734.2 955.7C737.2 953.2 739.0 947.2 740.0 945.5"/>
<path d="M740.0 926.5C740.7 928.4 743.9 934.0 744.4 938.2C744.9 942.6 744.5 947.2 742.9 951.3C741.4 955.2 738.8 958.8 735.6 961.5C732.3 964.3 728.2 966.5 723.9 967.4C720.6 968.0 716.9 967.3 713.7 965.9C711.2 964.8 708.9 961.0 707.9 960.1"/>
<path d="M687.4 971.8L707.9 963.0"/>
<path d="M691.8 976.1L713.7 966.6"/>
<path d="M687.4 971.8L691.8 976.1"/>
<path d="M637.8 933.8L686.0 914.8"/>
</g>
<g stroke-width="3" fill="none" stroke="#000">
<path d="M646.6 946.9L700.6 920.7"/>
</g>
<g stroke-width="2.6" fill="none" stroke="#000">
<path d="M674.3 949.9L702.0 946.9"/>
<path d="M659.7 945.5C661.2 946.0 665.8 946.8 668.5 948.4C670.8 949.8 672.7 952.0 674.3 954.2C676.6 957.4 677.8 961.3 680.1 964.5C682.2 967.2 686.2 970.5 687.4 971.8"/>
<path d="M691.8 976.1L729.8 1050.6L735.6 1070.0"/>
<path d="M694.7 979.1L722.5 1036.0"/>
<path d="M662.6 979.1C664.1 980.8 668.1 986.2 671.4 989.3C675.0 992.6 678.9 995.5 683.1 998.0C686.8 1000.3 691.5 1000.9 694.7 1003.9C697.6 1006.5 698.8 1010.6 700.6 1014.1C702.2 1017.4 704.2 1022.6 705.0 1024.3"/>
<path d="M705.0 1024.3L723.9 1037.4"/>
<path d="M648.0 1041.8L715.2 1036.0"/>
<path d="M645.1 1043.3L648.0 1046.9L686.0 1041.8"/>
<path d="M729.8 1041.8C731.2 1043.3 736.1 1047.2 738.5 1050.6C741.1 1054.1 742.6 1058.3 744.4 1062.3C745.5 1064.8 746.8 1068.7 747.3 1070.0"/>
<path d="M734.2 1059.3L759.0 1053.5L780.0 1052.0"/>
<path d="M761.9 1011.2L767.7 1036.0L769.2 1053.5"/>
</g>
<g stroke-width="2.6" fill="white" stroke="#000">
<ellipse cx="655.3" cy="1017.0" rx="24.1" ry="21.9" transform="rotate(-20.0 655.3 1017.0)"/>
</g>
<g stroke-width="2.6" fill="none" stroke="#000">
<ellipse cx="656.8" cy="1017.7" rx="21.2" ry="19.0" transform="rotate(-20.0 656.8 1017.7)"/>
<ellipse cx="658.2" cy="1018.5" rx="17.8" ry="15.8" transform="rotate(-20.0 658.2 1018.5)"/>
</g>
<g stroke-width="3" fill="none" stroke="#000">
<ellipse cx="657.5" cy="1018.2" rx="19.4" ry="17.4" transform="rotate(-20.0 657.5 1018.2)"/>
</g>
<g stroke-width="2.6" fill="white" stroke="#000">
<ellipse cx="665.5" cy="1019.9" rx="13.4" ry="14.3"/>
</g>
<g stroke-width="2.6" fill="none" stroke="#000">
<path d="M668.5 1006.8L661.2 1034.5"/>
<path d="M677.2 1024.3L682.3 1036.7L668.5 1033.8"/>
<path d="M621.8 920.7L642.2 995.1"/>
<path d="M626.1 923.6L645.1 992.2"/>
</g>
<g stroke-width="3.5" fill="none" stroke="#000">
<path d="M573.6 919.2C575.0 921.6 579.9 928.7 582.3 933.8C585.3 939.9 586.9 946.6 589.6 952.8C590.8 955.4 593.3 958.9 594.0 960.1"/>
<path d="M578.7 917.0C580.3 919.6 585.5 926.9 588.2 932.3C591.2 938.4 592.7 945.1 595.5 951.3C596.6 953.9 599.1 957.4 599.9 958.6"/>
<path d="M583.8 914.8C585.3 917.3 590.0 924.3 592.6 929.4C595.6 935.6 597.7 942.2 600.6 948.4C601.9 951.2 604.2 955.1 605.0 956.4"/>
</g>
<g stroke-width="2.6" fill="none" stroke="#000">
<path d="M573.6 919.2C574.3 918.5 576.2 915.8 578.0 914.8C579.7 913.8 581.8 913.1 583.8 913.4C586.0 913.6 588.7 915.8 589.6 916.3"/>
<path d="M547.3 929.4L559.0 922.8L564.8 925.0L570.7 938.2L576.5 942.6"/>
<ellipse cx="548.8" cy="933.8" rx="5.1" ry="6.6"/>
<path d="M542.9 936.7L554.6 941.1L561.9 936.7"/>
<path d="M602.8 923.6C603.5 922.6 605.1 919.1 607.2 917.7C608.8 916.7 611.1 916.5 613.0 917.0C615.2 917.6 617.4 918.8 618.8 920.7C621.5 924.1 623.7 930.4 624.7 932.3"/>
<path d="M618.8 920.7C620.0 920.4 623.8 918.4 626.1 919.2C628.7 920.1 630.6 922.7 632.0 925.0C634.1 928.6 634.6 932.9 636.4 936.7C638.0 940.3 639.6 944.0 642.2 946.9C643.2 948.1 645.0 948.3 646.6 948.4C649.5 948.6 653.9 947.8 655.3 947.7"/>
<path d="M602.8 923.6C603.7 926.3 606.6 934.3 608.6 939.6C611.0 946.0 613.6 952.2 615.9 958.6C617.5 963.0 619.6 967.2 620.3 971.8C620.6 974.2 620.1 976.9 618.8 979.1C617.5 981.1 614.0 982.7 613.0 983.4"/>
<path d="M588.2 971.8L598.4 987.8L605.7 990.7L615.9 984.9"/>
<path d="M586.7 973.2C587.7 975.4 590.0 982.3 592.6 986.4C594.0 988.7 597.4 991.2 598.4 992.2"/>
<path d="M540.0 968.8L550.2 965.9L559.0 990.7"/>
<path d="M554.6 971.8L588.2 955.7"/>
<path d="M579.4 974.7L598.4 1043.3"/>
<path d="M583.8 971.8L601.3 1036.0"/>
<path d="M598.4 1003.9C599.4 1002.4 601.4 997.2 604.2 995.1C609.4 991.4 615.4 988.3 621.8 987.1C624.0 986.7 626.4 988.8 627.6 990.7C629.0 993.0 629.5 996.1 629.1 998.8C628.7 1001.0 627.4 1003.4 625.4 1004.6C620.3 1007.7 611.4 1010.1 608.6 1011.2"/>
<path d="M598.4 1003.9C599.1 1006.8 600.9 1015.7 602.8 1021.4C604.4 1026.4 607.6 1033.6 608.6 1036.0"/>
<path d="M615.9 1006.8L626.1 1044.7"/>
<path d="M608.6 1036.0C607.6 1036.5 604.2 1037.2 602.8 1038.9C601.5 1040.4 600.6 1042.9 601.3 1044.7C602.3 1047.3 604.5 1049.9 607.2 1050.6C611.0 1051.5 615.1 1050.3 618.8 1049.1C621.5 1048.3 624.9 1045.5 626.1 1044.7"/>
<path d="M540.0 1006.8L567.7 995.1L573.6 1000.9L579.4 1021.4"/>
<path d="M548.8 1011.2L559.0 1050.6"/>
<path d="M566.3 1030.1L576.5 1025.8"/>
<path d="M640.7 951.3C641.0 952.5 642.2 956.1 642.2 958.6C642.2 962.1 642.4 965.8 640.7 968.8C639.7 970.7 635.9 971.3 634.9 971.8"/>
<path d="M655.3 948.4C655.8 950.1 658.0 955.1 658.2 958.6C658.5 962.0 658.2 965.7 656.8 968.8C655.6 971.3 653.4 973.4 650.9 974.7C648.3 976.0 643.6 975.9 642.2 976.1"/>
<path d="M659.7 948.4C661.2 948.2 665.7 945.9 668.5 946.9C671.7 948.1 674.2 951.2 675.8 954.2C677.5 957.8 678.2 962.0 678.0 965.9C677.7 969.1 676.6 972.5 674.3 974.7C672.1 976.8 668.6 977.9 665.5 977.6C662.7 977.3 659.5 973.9 658.2 973.2"/>
<path d="M601.3 1053.5L621.8 1049.1L645.1 1041.8"/>
</g>
<g stroke-width="2.2" fill="none" stroke="#000">
<path d="M811.0 677.7C812.3 676.8 816.1 673.4 819.2 672.3C823.5 670.7 828.2 669.7 832.8 669.6C838.3 669.4 843.9 670.2 849.2 671.6C854.0 672.9 858.6 675.1 862.8 677.7C867.8 680.8 872.1 684.8 876.5 688.7C878.9 690.8 881.7 692.7 883.3 695.5C884.5 697.5 884.9 700.0 884.7 702.3C884.4 705.6 882.4 710.3 881.9 711.9"/>
</g>
<g stroke-width="3.5" fill="none" stroke="#000">
<path d="M876.5 717.3L752.3 880.0"/>
</g>
<g stroke-width="2.2" fill="none" stroke="#000">
<path d="M881.9 711.9L816.4 801.9"/>
<path d="M894.2 714.6L804.1 856.5C802.0 860.0 799.4 863.4 798.7 867.5C798.0 871.6 799.8 877.9 800.1 880.0"/>
<path d="M928.3 755.5L843.7 880.0"/>
<path d="M932.4 758.3L848.0 880.0"/>
<path d="M936.5 761.0L851.6 880.0"/>
<path d="M939.9 763.7L857.0 880.0"/>
<path d="M913.3 722.8C914.9 723.0 919.9 723.0 922.9 724.1C926.9 725.7 930.5 728.2 933.8 731.0C936.5 733.3 939.0 736.0 940.6 739.2C942.3 742.5 943.4 746.3 943.4 750.1C943.4 754.7 941.9 759.3 940.6 763.7C938.7 770.2 936.1 776.5 933.8 782.8C930.6 791.9 927.7 801.1 924.3 810.1C919.9 821.6 915.8 833.2 910.6 844.3C908.0 849.8 902.4 857.3 900.8 859.9"/>
<path d="M917.4 728.2C919.2 729.2 925.5 730.8 928.3 733.7C931.2 736.6 933.1 740.6 933.8 744.6C934.5 748.2 932.7 753.7 932.4 755.5"/>
</g>
<g stroke-width="3" fill="none" stroke="#000">
<path d="M916.1 729.6C917.7 730.7 923.2 733.3 925.6 736.4C928.0 739.5 929.2 743.5 929.7 747.3C930.1 750.1 928.6 754.2 928.3 755.5"/>
</g>
<g stroke-width="2.2" fill="none" stroke="#000">
<path d="M916.1 733.7C918.7 732.5 922.3 734.3 924.3 736.4C926.9 739.3 928.3 743.5 928.3 747.3C928.3 751.2 926.9 755.4 924.3 758.3C922.3 760.4 918.7 762.1 916.1 761.0C913.0 759.8 911.3 756.0 910.6 752.8C909.8 749.2 911.0 745.4 912.0 741.9C912.8 739.0 913.3 734.9 916.1 733.7Z"/>
<path d="M880.6 717.3L901.0 736.4L939.3 763.7"/>
<path d="M884.7 699.6L917.4 725.5"/>
<path d="M901.0 713.2C901.5 714.8 904.0 719.5 903.8 722.8C903.5 726.7 901.4 730.2 899.7 733.7C898.2 736.6 895.1 740.5 894.2 741.9"/>
<ellipse cx="857.4" cy="710.5" rx="8.9" ry="6.1" transform="rotate(-30.0 857.4 710.5)"/>
<path d="M851.9 713.2L862.8 706.4"/>
<path d="M820.5 731.0C822.6 730.1 828.4 726.0 832.8 725.5C836.5 725.1 840.5 726.3 843.7 728.2C846.8 730.1 849.2 733.2 850.6 736.4C852.0 739.8 852.4 743.7 851.9 747.3C851.4 751.2 848.5 756.4 847.8 758.3"/>
<path d="M824.6 728.2C826.4 727.6 831.7 724.4 835.5 724.1C839.3 723.9 844.6 726.4 846.5 726.9"/>
</g>
<g stroke-width="2.2" fill="white" stroke="#000">
<ellipse cx="815.7" cy="750.8" rx="23.9" ry="11.6" transform="rotate(-15.0 815.7 750.8)"/>
</g>
<g stroke-width="2.2" fill="none" stroke="#000">
<ellipse cx="815.7" cy="750.8" rx="19.1" ry="8.2" transform="rotate(-15.0 815.7 750.8)"/>
<ellipse cx="820.5" cy="778.1" rx="15.3" ry="13.6" transform="rotate(-30.0 820.5 778.1)"/>
<ellipse cx="821.6" cy="779.0" rx="11.2" ry="9.6" transform="rotate(-30.0 821.6 779.0)"/>
<ellipse cx="822.7" cy="780.1" rx="6.6" ry="4.9" transform="rotate(-30.0 822.7 780.1)"/>
<path d="M820.5 706.4L835.5 713.2L824.6 720.1Z"/>
<path d="M813.7 687.3C814.6 686.8 817.1 684.6 819.2 684.6C820.8 684.6 822.9 685.7 823.3 687.3C823.9 690.0 823.2 693.1 821.9 695.5C820.8 697.5 817.3 698.9 816.4 699.6"/>
<path d="M868.3 780.1C872.2 773.3 876.8 766.9 881.9 761.0C883.3 759.5 885.4 758.0 887.4 758.3C889.3 758.5 890.8 760.6 891.5 762.4C894.1 768.9 896.3 775.8 897.0 782.8C897.2 785.7 895.4 788.4 894.2 791.0C890.4 799.8 886.9 808.8 881.9 817.0C881.2 818.2 879.2 818.9 877.8 818.3C876.3 817.7 875.7 815.8 875.1 814.2C872.0 805.3 868.8 796.2 866.9 786.9C866.5 784.7 867.1 782.1 868.3 780.1Z"/>
<path d="M868.3 780.1L887.4 791.0L881.9 817.0"/>
<path d="M881.9 761.0L890.1 789.7"/>
<path d="M887.4 758.3L892.9 788.3"/>
<path d="M824.6 836.1C826.4 834.2 831.1 827.7 835.5 825.1C837.2 824.2 840.2 824.8 841.0 826.5C845.1 836.0 847.3 846.3 849.2 856.5C849.6 858.8 849.0 861.4 847.8 863.4C844.4 869.3 837.6 877.2 835.5 880.0"/>
<path d="M827.3 834.7L843.7 863.4"/>
<path d="M835.5 825.8L845.1 860.6"/>
<path d="M824.6 836.1L841.0 864.7L847.8 863.4"/>
<path d="M772.8 807.4C774.1 808.3 778.0 811.4 780.9 812.9C784.4 814.6 788.1 816.0 791.9 817.0C795.0 817.8 799.8 818.1 801.4 818.3"/>
<path d="M764.6 827.9L772.8 807.4"/>
<path d="M764.6 827.9C765.0 829.0 765.3 833.2 767.3 834.7C771.2 837.6 776.0 840.2 780.9 840.2C783.9 840.2 786.6 835.6 787.8 834.7"/>
<path d="M771.4 825.1C772.1 826.5 773.5 831.1 775.5 833.3C777.2 835.3 781.2 836.7 782.3 837.4"/>
<path d="M761.8 844.3L780.9 851.1"/>
<path d="M756.4 844.3C756.2 845.8 754.8 850.6 755.0 853.8C755.3 857.5 755.9 861.4 757.7 864.7C758.8 866.7 762.3 868.1 763.2 868.8"/>
<path d="M775.5 863.4L785.0 880.0"/>
<path d="M800.1 741.9L794.6 763.7L764.6 821.0"/>
<path d="M800.1 763.7L770.0 817.0"/>
<path d="M757.7 673.6L740.0 696.9"/>
<path d="M793.2 761.0L740.0 851.1"/>
<path d="M900.8 860.0C899.3 865.0 894.7 879.8 891.8 889.8C888.3 902.1 885.2 914.7 881.4 927.0C878.3 937.0 874.4 946.8 871.0 956.8C868.4 964.2 866.3 971.7 863.5 979.1C861.3 985.1 858.7 991.0 856.1 996.9C853.2 1003.4 850.8 1010.2 847.2 1016.3C843.8 1022.1 839.8 1027.7 835.3 1032.7C830.8 1037.6 825.8 1042.2 820.4 1046.1C813.9 1050.7 806.8 1054.7 799.5 1058.0C792.4 1061.2 784.8 1063.4 777.2 1065.4C769.9 1067.4 762.4 1068.7 754.9 1069.9C750.0 1070.7 742.5 1071.1 740.0 1071.4"/>
<path d="M899.3 860.0C897.5 865.5 892.3 881.8 888.9 892.7C884.8 905.6 881.1 918.6 876.9 931.4C873.7 941.4 869.9 951.3 866.5 961.2C864.5 967.2 862.9 973.3 860.6 979.1C858.5 984.2 855.7 989.1 853.1 994.0C850.2 999.5 847.6 1005.2 844.2 1010.3C840.7 1015.6 836.8 1020.7 832.3 1025.2C827.8 1029.7 822.9 1033.9 817.4 1037.1C811.9 1040.4 805.7 1042.6 799.5 1044.6C792.3 1046.9 784.7 1048.4 777.2 1049.8C769.8 1051.1 762.3 1051.7 754.9 1052.8C749.9 1053.5 742.5 1054.6 740.0 1055.0"/>
<path d="M862.1 973.1L867.3 973.9"/>
<path d="M860.6 979.1L865.8 979.8"/>
</g>
<g stroke-width="1.6" fill="none" stroke="#000">
<path d="M775.7 860.0L862.1 973.1"/>
</g>
<g stroke-width="2.2" fill="none" stroke="#000">
<path d="M839.7 863.0L810.0 901.7"/>
<path d="M844.2 864.5L812.6 904.7"/>
<path d="M849.4 864.5L815.2 907.6"/>
<path d="M799.5 864.5C799.8 866.2 800.2 871.5 801.0 874.9C802.2 879.9 803.9 884.9 805.5 889.8C806.8 893.8 808.1 897.9 810.0 901.7C811.1 903.9 813.7 906.6 814.4 907.6"/>
</g>
<g stroke-width="3" fill="none" stroke="#000">
<ellipse cx="797.3" cy="921.8" rx="8.2" ry="9.7" transform="rotate(20.0 797.3 921.8)"/>
</g>
<g stroke-width="2.2" fill="none" stroke="#000">
<ellipse cx="797.3" cy="921.8" rx="5.7" ry="7.1" transform="rotate(20.0 797.3 921.8)"/>
<ellipse cx="798.1" cy="921.8" rx="2.7" ry="3.0"/>
</g>
<g stroke-width="3.5" fill="none" stroke="#000">
<path d="M740.0 900.2C741.5 900.9 746.8 902.1 748.9 904.7C752.5 908.9 754.1 914.5 756.4 919.5C758.1 923.4 760.5 927.2 760.8 931.4C761.0 934.1 759.8 937.0 757.9 938.9C755.5 941.2 752.2 943.1 748.9 943.4C745.8 943.6 741.5 940.9 740.0 940.4"/>
</g>
<g stroke-width="2.2" fill="none" stroke="#000">
<path d="M740.0 904.7C741.2 905.4 745.6 906.9 747.4 909.1C750.5 913.0 752.2 917.9 754.1 922.5C755.4 925.4 757.0 928.3 757.1 931.4C757.2 933.3 756.2 935.3 754.9 936.7C753.3 938.2 749.9 939.1 748.9 939.6"/>
<path d="M757.9 912.1C761.1 910.4 771.7 906.5 777.2 901.7C783.4 896.3 787.8 889.2 792.1 882.3C795.3 877.2 798.3 868.7 799.5 866.0"/>
<path d="M811.4 1011.8C814.4 1011.2 817.7 1010.5 820.4 1011.8C823.2 1013.3 825.6 1016.2 826.3 1019.3C827.2 1022.7 826.4 1026.5 824.8 1029.7C823.3 1033.0 820.5 1035.9 817.4 1037.9C814.8 1039.5 811.4 1040.9 808.5 1040.1C805.7 1039.4 803.5 1036.8 802.5 1034.2C801.3 1030.9 801.7 1027.1 802.5 1023.7C803.3 1020.5 805.0 1017.5 807.0 1014.8C808.1 1013.4 809.7 1012.2 811.4 1011.8Z"/>
<path d="M810.0 1014.1C809.5 1015.2 807.6 1018.4 807.0 1020.8C806.3 1023.7 806.4 1028.2 806.2 1029.7"/>
<path d="M750.4 995.5C752.2 997.9 758.4 1004.8 760.8 1010.3C764.9 1019.4 767.1 1029.1 769.8 1038.6C771.1 1043.5 772.4 1048.5 772.7 1053.5C772.9 1056.5 772.3 1059.6 771.3 1062.4C770.3 1065.2 767.5 1068.6 766.8 1069.9"/>
<path d="M784.7 1052.0C784.4 1053.5 784.2 1058.1 783.2 1061.0C782.2 1063.7 779.4 1067.2 778.7 1068.4"/>
<path d="M740.0 1052.0C740.7 1053.3 743.5 1056.7 744.5 1059.5C745.5 1062.3 745.7 1066.9 746.0 1068.4"/>
<path d="M568.2 852.0C571.5 852.8 584.8 856.0 588.2 856.8C590.9 856.8 601.6 856.8 604.2 856.8C605.7 857.5 610.2 859.5 613.0 861.2C616.0 862.9 618.7 865.2 621.8 867.0C624.6 868.7 627.4 870.5 630.5 871.4C634.3 872.5 638.3 873.1 642.2 872.8C646.2 872.6 650.1 871.3 653.9 869.9C657.9 868.4 661.9 866.4 665.5 864.1C668.7 862.0 671.3 859.2 674.3 856.8C676.2 855.3 679.2 853.1 680.1 852.4C694.7 833.7 753.1 758.7 767.7 740.0"/>
</g>
<g stroke-width="3.5" fill="none" stroke="#000">
<path d="M560.0 857.5C564.0 858.7 575.8 862.5 583.8 864.8C588.6 866.2 593.5 867.5 598.4 868.5C606.1 870.0 617.9 871.5 621.8 872.1"/>
</g>
<g stroke-width="2.2" fill="none" stroke="#000">
<path d="M604.2 856.8C606.2 858.2 612.0 862.6 615.9 865.5C619.8 868.5 623.9 871.2 627.6 874.3C632.6 878.5 637.1 883.4 642.2 887.4C646.8 891.2 651.8 894.4 656.8 897.7C661.5 900.8 666.4 903.6 671.4 906.4C674.2 908.0 677.0 910.0 680.1 910.8C686.8 912.5 693.7 913.4 700.6 913.7C705.5 913.9 710.4 913.3 715.2 912.3C719.2 911.4 723.3 909.9 726.9 907.9C730.2 906.0 734.2 901.8 735.6 900.6"/>
</g>
<g stroke-width="3" fill="none" stroke="#000">
<path d="M621.8 871.4C623.7 873.3 629.4 879.3 633.4 883.1C637.2 886.6 640.9 890.3 645.1 893.3C649.7 896.6 654.7 899.3 659.7 902.0C663.5 904.2 669.4 906.9 671.4 907.9"/>
</g>
<g stroke-width="2.2" fill="none" stroke="#000">
<path d="M568.2 884.5L640.7 888.9"/>
</g>
<g stroke-width="3" fill="none" stroke="#000">
<path d="M693.3 856.8L780.0 741.5"/>
</g>
<g stroke-width="2.2" fill="none" stroke="#000">
<path d="M693.3 856.8C693.8 857.5 694.7 860.2 696.2 861.2C702.2 865.0 708.4 868.5 715.2 870.7C716.7 871.1 718.8 868.8 719.6 868.5"/>
<path d="M719.6 868.5L731.2 853.9"/>
<path d="M715.2 865.5C716.2 863.8 718.4 858.3 721.0 855.3C722.5 853.7 724.7 852.7 726.9 852.4C728.4 852.2 730.5 853.6 731.2 853.9"/>
<path d="M722.5 856.8L716.6 867.0"/>
<path d="M725.4 888.9L780.0 801.3"/>
<path d="M729.8 886.0L780.0 808.6"/>
<path d="M725.4 888.9C725.9 889.6 726.8 892.5 728.3 893.3C732.4 895.3 739.3 896.3 741.5 896.9"/>
<path d="M741.5 896.9L780.0 842.2"/>
<path d="M731.2 884.5L744.4 891.8L780.0 833.4"/>
<path d="M722.5 886.0L780.0 788.2"/>
<path d="M761.9 827.6L767.7 824.7L780.0 834.9"/>
<path d="M759.0 846.6C758.5 848.3 756.1 853.2 756.1 856.8C756.1 859.9 756.6 863.6 759.0 865.5C760.5 866.8 763.8 864.3 764.8 864.1"/>
<path d="M764.8 842.2L780.0 850.9"/>
<path d="M645.1 878.0L656.8 874.3L659.0 884.5Z"/>
<path d="M659.0 884.5L680.1 853.9"/>
<path d="M645.1 878.0C647.1 877.1 653.1 875.0 656.8 872.8C661.0 870.4 664.8 867.3 668.5 864.1C672.1 860.9 677.0 855.6 678.7 853.9"/>
<ellipse cx="673.6" cy="880.9" rx="9.5" ry="6.6" transform="rotate(-50.0 673.6 880.9)"/>
<path d="M669.9 884.5L678.7 877.2"/>
<ellipse cx="705.0" cy="895.5" rx="10.2" ry="6.6" transform="rotate(-40.0 705.0 895.5)"/>
<path d="M700.6 899.1L710.8 891.1"/>
</g>
<g stroke-width="3" fill="none" stroke="#000">
<path d="M738.5 899.9L756.1 920.0"/>
</g>
<g stroke-width="2.2" fill="none" stroke="#000">
<path d="M665.5 920.0C666.5 919.4 669.3 917.4 671.4 916.6C673.7 915.8 677.5 915.4 678.7 915.2"/>
</g>
<g stroke-width="2.4" fill="white" stroke="#000">
<path d="M164.0 1030.0C163.9 1027.6 163.2 1025.0 164.0 1022.7C165.1 1019.2 167.1 1015.9 169.5 1013.0C172.7 1009.0 176.4 1005.2 180.4 1002.0C186.1 997.5 192.3 993.5 198.7 989.9C206.5 985.4 214.6 981.2 223.0 977.7C230.9 974.5 239.1 972.0 247.3 969.8C255.3 967.7 263.5 966.4 271.7 964.9C277.7 963.8 283.9 963.2 289.9 961.9C294.0 961.0 298.0 959.4 302.1 958.2C304.9 957.4 307.7 956.2 310.6 955.8C313.0 955.5 315.5 955.7 317.9 956.4C320.5 957.2 323.0 958.5 325.2 960.1C327.5 961.8 329.6 963.8 331.3 966.2C333.3 969.0 334.8 972.1 336.1 975.3C337.4 978.4 338.7 981.6 339.2 985.0C339.5 987.4 339.3 990.0 338.6 992.3C337.8 994.6 336.4 996.6 334.9 998.4C332.7 1001.1 329.8 1003.1 327.6 1005.7C325.7 1007.9 323.9 1010.3 322.7 1013.0C321.4 1016.1 321.4 1019.6 320.3 1022.7C319.4 1025.3 318.2 1027.8 316.7 1030.0C314.1 1033.9 311.4 1037.7 308.2 1041.0C304.5 1044.6 300.3 1047.8 296.0 1050.7C290.1 1054.7 284.1 1058.5 277.7 1061.7C269.9 1065.6 261.7 1069.0 253.4 1072.0C245.4 1074.9 237.3 1077.3 229.1 1079.3C221.1 1081.2 213.0 1082.9 204.7 1083.6C200.3 1083.9 195.7 1083.6 191.4 1082.3C188.6 1081.5 186.1 1079.5 184.1 1077.5C182.4 1075.8 181.3 1073.6 180.4 1071.4L164.6 1033.7C164.1 1032.5 164.1 1031.3 164.0 1030.0Z"/>
</g>
<g stroke-width="2.2" fill="none" stroke="#000">
<path d="M169.5 1030.0C169.1 1027.6 169.7 1025.0 170.7 1022.7C172.2 1019.2 174.2 1015.9 176.8 1013.0C180.4 1008.9 184.5 1005.2 188.9 1002.0C194.7 997.9 200.9 994.4 207.2 991.1C214.7 987.1 222.4 983.3 230.3 980.1C237.8 977.2 245.6 975.0 253.4 972.8C259.4 971.2 265.6 969.9 271.7 968.6C275.7 967.7 279.7 966.7 283.8 966.2C287.0 965.7 290.3 965.0 293.6 965.5C295.4 965.9 297.7 966.8 298.4 968.6C299.3 970.6 298.3 973.1 297.8 975.3C297.1 978.2 296.0 981.1 294.8 983.8C293.4 986.8 291.9 989.7 289.9 992.3C287.4 995.5 284.5 998.3 281.4 1000.8C277.6 1004.0 273.4 1006.8 269.2 1009.3C264.1 1012.5 258.8 1015.3 253.4 1017.9C247.4 1020.7 241.4 1023.5 235.2 1025.8C228.0 1028.4 220.6 1030.4 213.3 1032.5C207.2 1034.1 201.2 1035.8 195.0 1036.7C190.2 1037.4 185.3 1037.7 180.4 1037.3C177.7 1037.1 174.8 1036.4 172.5 1034.9C170.9 1033.8 169.7 1031.9 169.5 1030.0Z"/>
<path d="M165.2 1030.0C165.4 1030.6 165.5 1032.8 166.4 1033.7C168.7 1035.8 171.4 1037.6 174.3 1038.5C178.2 1039.8 182.4 1040.4 186.5 1040.4C191.4 1040.4 196.3 1039.6 201.1 1038.5C206.9 1037.3 212.5 1035.5 218.1 1033.7C224.7 1031.6 231.2 1029.5 237.6 1027.0C244.2 1024.4 250.7 1021.5 257.1 1018.5C262.4 1015.9 267.8 1013.1 272.9 1010.0C277.1 1007.4 281.3 1004.6 285.0 1001.4C288.2 998.7 290.9 995.5 293.6 992.3C295.4 990.0 296.9 987.5 298.4 985.0C299.4 983.5 300.4 981.0 300.9 980.1"/>
<path d="M257.1 971.6L257.1 994.7L269.2 1007.5"/>
<path d="M283.2 967.4L291.1 987.4"/>
<path d="M300.9 980.1C301.5 979.1 302.8 975.7 304.5 974.1C306.6 972.0 309.1 970.2 311.8 969.2C314.5 968.2 317.5 967.8 320.3 968.0C322.9 968.2 325.4 969.1 327.6 970.4C329.6 971.6 331.7 974.5 332.5 975.3"/>
<path d="M300.9 985.0L316.7 1025.2"/>
<path d="M306.9 977.7L320.3 1011.8"/>
<path d="M320.3 969.2L331.3 994.7"/>
<path d="M315.5 961.9L321.5 970.4"/>
<path d="M317.9 961.9C319.1 962.3 323.1 962.9 325.2 964.3C327.3 965.8 328.7 968.2 330.0 970.4C331.2 972.3 331.8 974.4 332.5 976.5C334.3 982.1 336.5 990.7 337.3 993.5"/>
</g>
<g stroke-width="2.7" fill="#fff" stroke="#000">
<ellipse cx="601.8" cy="1174.2" rx="4.3" ry="2.1" transform="rotate(162.1 601.8 1174.2)"/>
<ellipse cx="600.4" cy="1169.8" rx="4.3" ry="2.1" transform="rotate(162.1 600.4 1169.8)"/>
<ellipse cx="598.9" cy="1165.5" rx="4.3" ry="2.1" transform="rotate(162.1 598.9 1165.5)"/>
<ellipse cx="597.5" cy="1161.1" rx="4.3" ry="2.1" transform="rotate(162.1 597.5 1161.1)"/>
<ellipse cx="596.1" cy="1156.7" rx="4.3" ry="2.1" transform="rotate(162.1 596.1 1156.7)"/>
<ellipse cx="594.7" cy="1152.3" rx="4.3" ry="2.1" transform="rotate(162.1 594.7 1152.3)"/>
<ellipse cx="593.3" cy="1147.9" rx="4.3" ry="2.1" transform="rotate(162.1 593.3 1147.9)"/>
<ellipse cx="591.9" cy="1143.5" rx="4.3" ry="2.1" transform="rotate(162.1 591.9 1143.5)"/>
<ellipse cx="590.4" cy="1139.1" rx="4.3" ry="2.1" transform="rotate(162.1 590.4 1139.1)"/>
</g>
<g stroke-width="1.8" fill="#000" stroke="#000">
<path d="M599.1 1129.3 L594.5 1137.8 L586.4 1140.4 L577.7 1136.2 Z"/>
</g>
<g stroke-width="2" fill="#fff" stroke="#000">
<ellipse cx="588.4" cy="1132.7" rx="11.2" ry="5.6" transform="rotate(162.1 588.4 1132.7)"/>
</g>
<g stroke-width="1" fill="#000" stroke="#000">
<ellipse cx="588.4" cy="1132.7" rx="4.3" ry="2.4" transform="rotate(162.1 588.4 1132.7)"/>
</g>
<g stroke-width="2.4" fill="white" stroke="#000">
<path d="M505.4 1146.1C507.0 1146.4 511.7 1147.0 514.8 1147.5C525.5 1149.2 536.3 1150.7 546.9 1152.8C556.4 1154.7 570.3 1158.4 575.0 1159.5C575.7 1160.2 577.3 1162.7 579.0 1163.5C583.3 1165.5 587.9 1166.5 592.4 1167.5C597.7 1168.7 603.3 1168.6 608.5 1170.2C613.2 1171.7 617.9 1173.9 621.8 1176.9C626.9 1180.7 631.0 1185.6 635.2 1190.3C640.8 1196.4 645.7 1203.0 651.3 1209.0C656.4 1214.6 661.7 1220.0 667.3 1225.1C670.7 1228.1 673.9 1231.5 678.1 1233.1C683.1 1235.1 688.7 1235.6 694.1 1235.8L747.6 1237.9L801.2 1239.8C803.8 1239.9 806.2 1237.8 807.9 1235.8C810.4 1232.7 812.8 1229.1 813.2 1225.1C813.4 1223.2 810.7 1222.2 809.2 1221.1C807.6 1219.9 804.7 1218.8 803.8 1218.4C804.1 1217.9 805.0 1216.2 805.2 1215.7C809.0 1214.6 820.5 1211.7 827.9 1209.0C834.3 1206.8 840.1 1202.9 846.7 1201.0C848.0 1200.6 849.7 1201.3 850.7 1202.3C856.1 1208.6 860.7 1215.6 865.4 1222.4C870.9 1230.3 876.4 1238.3 881.5 1246.5C886.2 1254.3 891.5 1262.0 894.8 1270.6C895.7 1272.7 895.1 1275.7 893.5 1277.3C890.3 1280.5 884.9 1281.0 881.5 1284.0C878.1 1286.9 876.5 1291.4 873.4 1294.7C871.1 1297.2 868.5 1299.8 865.4 1301.4C862.1 1303.0 858.0 1302.5 854.7 1304.0L827.9 1316.1C827.5 1315.6 825.9 1314.5 825.3 1313.4C821.4 1307.3 818.7 1300.6 814.5 1294.7C812.4 1291.6 809.7 1288.7 806.5 1286.6C803.3 1284.6 799.6 1282.9 795.8 1282.6C793.0 1282.4 790.2 1283.9 787.8 1285.3C783.0 1288.0 778.7 1291.3 774.4 1294.7C768.9 1298.9 763.3 1303.1 758.3 1308.1C755.2 1311.2 752.7 1315.0 750.3 1318.8C748.7 1321.3 748.1 1324.4 746.3 1326.8C744.9 1328.5 741.8 1330.1 740.9 1330.8C739.8 1330.4 734.9 1330.4 734.3 1328.1L724.9 1296.0C723.3 1296.2 718.4 1296.0 715.5 1297.3C710.6 1299.7 705.9 1302.8 702.1 1306.7C700.5 1308.4 699.5 1311.1 700.0 1313.4C701.4 1320.0 705.0 1325.9 707.5 1332.1C712.0 1343.7 716.8 1355.2 720.9 1366.9C723.9 1375.7 726.6 1384.7 728.9 1393.7C730.2 1399.0 732.1 1404.3 731.6 1409.8C731.1 1414.5 729.9 1420.1 726.2 1423.1C721.1 1427.4 714.0 1428.4 707.5 1429.8C694.3 1432.8 680.8 1434.7 667.3 1436.5C654.0 1438.3 640.6 1439.3 627.2 1440.5C621.0 1441.1 611.6 1441.6 608.5 1441.9C607.8 1441.2 605.4 1439.5 604.5 1437.9C601.8 1433.2 599.9 1428.1 597.8 1423.1C592.3 1410.7 586.8 1398.3 581.7 1385.7C577.0 1374.2 572.5 1362.6 568.3 1350.9C562.7 1334.9 557.2 1318.9 552.3 1302.7C548.2 1289.4 544.8 1276.0 541.6 1262.6C538.6 1250.1 536.3 1237.6 533.5 1225.1C530.9 1213.5 528.7 1201.8 525.5 1190.3C524.2 1185.7 522.9 1180.8 520.1 1176.9C517.4 1173.0 513.4 1170.2 509.4 1167.5C506.6 1165.7 501.6 1164.2 500.1 1163.5C500.5 1161.7 501.7 1156.3 502.7 1152.8C503.5 1150.5 505.0 1147.2 505.4 1146.1Z"/>
</g>
<g stroke-width="2.2" fill="none" stroke="#000">
<path d="M514.8 1147.5C515.7 1149.3 519.0 1154.4 520.1 1158.2C521.7 1163.4 521.7 1168.9 522.8 1174.2C523.9 1179.6 525.6 1184.9 526.8 1190.3C529.6 1201.9 532.3 1213.5 534.9 1225.1C537.6 1237.6 539.9 1250.1 542.9 1262.6C546.1 1276.0 549.6 1289.4 553.6 1302.7C558.5 1318.9 564.0 1334.9 569.7 1350.9C573.8 1362.6 578.4 1374.2 583.0 1385.7C588.2 1398.3 593.7 1410.7 599.1 1423.1C601.3 1428.1 604.7 1435.4 605.8 1437.9"/>
<path d="M552.3 1301.4L629.9 1299.2"/>
<path d="M672.7 1297.3L769.0 1294.7"/>
</g>
<g stroke-width="1.6" fill="none" stroke="#000">
<path d="M683.4 1297.3L675.4 1370.9"/>
<path d="M757.0 1239.8L783.8 1281.3"/>
</g>
<g stroke-width="2.2" fill="none" stroke="#000">
<path d="M575.0 1159.5L583.0 1167.5L593.7 1168.1"/>
<ellipse cx="651.3" cy="1318.2" rx="22.7" ry="23.6"/>
<path d="M633.9 1302.7C635.9 1301.6 641.5 1297.1 645.9 1296.0C651.1 1294.8 657.0 1294.2 662.0 1296.0C666.1 1297.5 669.5 1301.4 671.4 1305.4C673.3 1309.4 672.5 1316.5 672.7 1318.8"/>
<path d="M667.3 1373.6C670.6 1372.0 674.4 1370.7 678.1 1370.9C681.9 1371.2 686.2 1372.2 688.8 1375.0C692.0 1378.5 692.7 1383.7 694.1 1388.3C695.4 1392.7 697.4 1397.2 696.8 1401.7C696.4 1404.9 694.1 1407.9 691.4 1409.8C687.5 1412.5 682.8 1414.3 678.1 1415.1C674.5 1415.7 670.3 1415.8 667.3 1413.8C664.4 1411.8 663.4 1407.7 662.0 1404.4C660.2 1400.1 658.5 1395.6 658.0 1391.0C657.6 1387.4 657.6 1383.5 659.3 1380.3C661.0 1377.2 664.2 1375.2 667.3 1373.6Z"/>
<path d="M664.7 1415.1C666.0 1415.8 669.7 1418.7 672.7 1419.1C677.1 1419.7 681.9 1419.4 686.1 1417.8C690.2 1416.2 694.2 1413.4 696.8 1409.8C698.9 1406.8 699.0 1400.8 699.5 1399.0"/>
<ellipse cx="634.7" cy="1417.8" rx="13.4" ry="11.2" transform="rotate(-15.0 634.7 1417.8)"/>
<ellipse cx="636.6" cy="1415.6" rx="9.4" ry="7.5" transform="rotate(-15.0 636.6 1415.6)"/>
<path d="M731.6 1409.8C729.8 1410.4 724.6 1413.2 720.9 1413.8C712.0 1415.0 703.0 1413.9 694.1 1415.1C686.8 1416.1 679.2 1416.9 672.7 1420.5C668.8 1422.6 667.0 1427.4 664.7 1431.2C663.4 1433.2 662.4 1436.7 662.0 1437.9"/>
<ellipse cx="864.1" cy="1285.3" rx="11.2" ry="11.2"/>
<path d="M854.7 1281.3C855.6 1282.2 857.9 1285.3 860.0 1286.6C862.5 1288.1 865.3 1289.3 868.1 1289.3C870.1 1289.3 872.5 1287.1 873.4 1286.6"/>
<path d="M817.2 1292.0C819.9 1291.8 828.0 1291.8 833.3 1290.7C840.6 1289.1 851.1 1285.1 854.7 1284.0"/>
<path d="M873.4 1275.9C874.8 1274.6 878.2 1269.9 881.5 1267.9C885.1 1265.7 891.5 1264.6 893.5 1263.9"/>
<path d="M728.9 1294.7L738.3 1326.8"/>
</g>
<g stroke-width="8" fill="none" stroke="#000">
<path d="M872.9 1302.2L886.8 1311.3"/>
<path d="M747.6 1443.2L759.7 1453.9"/>
</g>
<g stroke-width="2.2" fill="white" stroke="#000">
<ellipse cx="893.5" cy="1317.4" rx="9.6" ry="9.6"/>
<ellipse cx="766.9" cy="1460.6" rx="9.6" ry="9.6"/>
</g>
<g stroke-width="4" fill="none" stroke="#000">
<path d="M889.5 1317.4L897.5 1317.4"/>
<path d="M893.5 1313.4L893.5 1321.4"/>
<path d="M762.9 1460.6L770.9 1460.6"/>
<path d="M766.9 1456.6L766.9 1464.6"/>
</g>
<g stroke-width="2.2" fill="white" stroke="#000">
<path d="M1240.2 351.8L1284.5 340.7L1300.3 343.9L1301.9 369.2L1286.1 372.3L1245.8 381.8Z"/>
</g>
<g stroke-width="2.2" fill="none" stroke="#000">
<path d="M1240.2 351.8L1284.5 340.7"/>
<path d="M1245.8 381.8L1286.1 372.3"/>
<ellipse cx="1326.4" cy="351.0" rx="12.7" ry="26.6" transform="rotate(-8.0 1326.4 351.0)"/>
<ellipse cx="1325.6" cy="351.8" rx="8.7" ry="22.1" transform="rotate(-8.0 1325.6 351.8)"/>
<ellipse cx="1301.1" cy="356.5" rx="11.1" ry="25.6" transform="rotate(-10.0 1301.1 356.5)"/>
<ellipse cx="1301.1" cy="357.0" rx="7.3" ry="21.4" transform="rotate(-10.0 1301.1 357.0)"/>
<ellipse cx="1279.0" cy="360.5" rx="11.1" ry="25.6" transform="rotate(-10.0 1279.0 360.5)"/>
<ellipse cx="1279.0" cy="361.0" rx="7.3" ry="21.4" transform="rotate(-10.0 1279.0 361.0)"/>
<ellipse cx="1257.6" cy="365.2" rx="11.1" ry="25.6" transform="rotate(-10.0 1257.6 365.2)"/>
<ellipse cx="1257.6" cy="365.7" rx="7.3" ry="21.4" transform="rotate(-10.0 1257.6 365.7)"/>
</g>
<g stroke-width="3.5" fill="none" stroke="#000">
<ellipse cx="1290.9" cy="356.5" rx="6.3" ry="15.8" transform="rotate(-8.0 1290.9 356.5)"/>
<ellipse cx="1294.8" cy="355.7" rx="6.3" ry="15.8" transform="rotate(-8.0 1294.8 355.7)"/>
<ellipse cx="1298.8" cy="354.9" rx="6.3" ry="15.8" transform="rotate(-8.0 1298.8 354.9)"/>
</g>
<g stroke-width="2.2" fill="white" stroke="#000">
<path d="M1177.0 348.6C1179.4 347.8 1186.3 345.0 1191.2 343.9C1194.3 343.1 1197.6 343.9 1200.7 343.1C1203.6 342.3 1205.7 339.6 1208.6 339.1C1213.8 338.3 1219.3 338.1 1224.4 339.1C1227.4 339.7 1230.0 341.8 1232.3 343.9C1234.3 345.6 1235.9 347.8 1237.1 350.2C1239.4 354.7 1241.4 359.5 1242.6 364.4C1243.9 369.6 1244.7 374.9 1244.7 380.2C1244.7 383.5 1243.7 386.7 1242.6 389.7C1241.7 392.5 1240.7 395.5 1238.7 397.6C1237.1 399.4 1234.5 399.8 1232.3 400.8C1228.7 402.5 1225.2 404.8 1221.3 405.5C1219.6 405.9 1218.2 404.1 1216.5 404.0C1212.9 403.6 1209.1 403.4 1205.5 404.0C1203.7 404.2 1202.4 405.9 1200.7 406.3C1197.6 407.2 1194.4 407.4 1191.2 407.9C1187.0 408.7 1180.7 409.9 1178.6 410.3"/>
<ellipse cx="1177.8" cy="379.5" rx="15.0" ry="30.8" transform="rotate(-8.0 1177.8 379.5)"/>
</g>
<g stroke-width="2.2" fill="none" stroke="#000">
<ellipse cx="1177.0" cy="381.0" rx="10.3" ry="23.7" transform="rotate(-8.0 1177.0 381.0)"/>
<path d="M1191.2 343.9C1192.5 346.0 1197.4 351.9 1199.1 356.5C1201.6 363.1 1203.3 370.1 1203.9 377.1C1204.4 383.4 1203.6 389.8 1202.3 396.1C1201.5 400.0 1198.3 405.3 1197.5 407.1"/>
<path d="M1200.7 343.1C1202.0 345.3 1206.9 351.6 1208.6 356.5C1210.9 363.1 1212.1 370.1 1212.6 377.1C1212.9 382.9 1212.3 388.8 1211.0 394.5C1210.2 397.9 1207.0 402.4 1206.2 404.0"/>
<path d="M1208.6 339.1C1209.9 341.5 1214.8 348.2 1216.5 353.4C1218.8 360.5 1220.0 368.0 1220.5 375.5C1220.8 381.3 1220.0 387.2 1218.9 392.9C1218.1 396.7 1215.6 402.1 1214.9 404.0"/>
</g>
<g stroke-width="5" fill="none" stroke="#000">
<path d="M1218.1 339.1C1219.7 341.8 1225.5 349.2 1227.6 354.9C1230.0 361.5 1230.9 368.5 1231.5 375.5C1232.0 380.8 1231.8 386.1 1230.8 391.3C1229.9 395.2 1226.8 400.5 1226.0 402.4"/>
</g>
<g stroke-width="2.2" fill="none" stroke="#000">
<path d="M1226.0 339.1C1227.6 340.4 1233.3 343.5 1235.5 347.0C1238.8 352.3 1240.3 358.5 1241.8 364.4C1243.2 369.6 1244.0 374.9 1244.2 380.2C1244.3 383.5 1243.6 386.7 1242.6 389.7C1241.7 392.5 1239.3 396.3 1238.7 397.6"/>
<ellipse cx="991.2" cy="562.2" rx="17.5" ry="31.2" transform="rotate(-8.0 991.2 562.2)"/>
<ellipse cx="993.3" cy="563.1" rx="11.6" ry="24.1" transform="rotate(-8.0 993.3 563.1)"/>
</g>
<g stroke-width="2.2" fill="white" stroke="#000">
<path d="M1084.8 525.6L1155.5 515.2L1161.8 544.3L1093.1 563.1Z"/>
<ellipse cx="1080.7" cy="546.4" rx="16.6" ry="27.5" transform="rotate(-8.0 1080.7 546.4)"/>
<ellipse cx="1064.0" cy="548.5" rx="18.7" ry="29.1" transform="rotate(-8.0 1064.0 548.5)"/>
</g>
<g stroke-width="2.2" fill="none" stroke="#000">
<ellipse cx="1064.0" cy="549.8" rx="11.6" ry="20.8" transform="rotate(-8.0 1064.0 549.8)"/>
<path d="M1084.8 525.6L1155.5 515.2L1161.8 544.3"/>
<path d="M1093.1 563.1L1159.7 544.3"/>
<path d="M1103.5 523.5C1104.9 526.7 1111.5 535.4 1111.9 542.3C1112.2 548.8 1106.7 557.9 1105.6 561.0"/>
<path d="M1161.8 523.5L1176.4 521.5"/>
<path d="M1163.9 538.1L1176.4 536.0"/>
<ellipse cx="1180.5" cy="526.5" rx="6.7" ry="11.6" transform="rotate(-8.0 1180.5 526.5)"/>
<ellipse cx="1245.0" cy="514.4" rx="17.5" ry="30.0" transform="rotate(-8.0 1245.0 514.4)"/>
<ellipse cx="1242.9" cy="515.2" rx="8.3" ry="16.6" transform="rotate(-8.0 1242.9 515.2)"/>
<ellipse cx="1244.2" cy="514.8" rx="11.2" ry="20.8" transform="rotate(-8.0 1244.2 514.8)"/>
</g>
<g stroke-width="2.2" fill="white" stroke="#000">
<ellipse cx="1311.6" cy="504.8" rx="18.7" ry="30.0" transform="rotate(-8.0 1311.6 504.8)"/>
<ellipse cx="1303.2" cy="504.8" rx="20.0" ry="31.2" transform="rotate(-8.0 1303.2 504.8)"/>
</g>
<g stroke-width="2.2" fill="none" stroke="#000">
<ellipse cx="1299.1" cy="504.8" rx="12.5" ry="20.0" transform="rotate(-8.0 1299.1 504.8)"/>
<ellipse cx="1300.3" cy="504.8" rx="9.2" ry="15.8" transform="rotate(-8.0 1300.3 504.8)"/>
</g>
<g stroke-width="2.2" fill="white" stroke="#000">
<ellipse cx="1367.7" cy="491.5" rx="16.6" ry="29.1" transform="rotate(-8.0 1367.7 491.5)"/>
<ellipse cx="1360.2" cy="492.3" rx="19.1" ry="31.2" transform="rotate(-8.0 1360.2 492.3)"/>
</g>
<g stroke-width="2.2" fill="none" stroke="#000">
<ellipse cx="1357.3" cy="492.3" rx="11.6" ry="18.7" transform="rotate(-8.0 1357.3 492.3)"/>
<ellipse cx="1357.3" cy="492.3" rx="7.5" ry="13.3" transform="rotate(-8.0 1357.3 492.3)"/>
</g>
<g stroke-width="3" fill="none" stroke="#000">
<ellipse cx="1357.3" cy="492.3" rx="9.6" ry="15.8" transform="rotate(-8.0 1357.3 492.3)"/>
</g>
<g stroke-width="2.2" fill="none" stroke="#000">
<ellipse cx="1409.3" cy="484.0" rx="10.4" ry="15.8" transform="rotate(-8.0 1409.3 484.0)"/>
<ellipse cx="1408.5" cy="484.0" rx="5.4" ry="9.2" transform="rotate(-8.0 1408.5 484.0)"/>
<ellipse cx="1408.5" cy="484.0" rx="7.5" ry="12.5" transform="rotate(-8.0 1408.5 484.0)"/>
<ellipse cx="1444.7" cy="477.8" rx="11.2" ry="16.6" transform="rotate(-8.0 1444.7 477.8)"/>
<path d="M1442.6 473.6L1443.9 481.9"/>
<ellipse cx="1484.2" cy="470.7" rx="10.4" ry="15.8" transform="rotate(-8.0 1484.2 470.7)"/>
<ellipse cx="1483.4" cy="470.7" rx="5.8" ry="10.0" transform="rotate(-8.0 1483.4 470.7)"/>
<ellipse cx="1483.4" cy="470.7" rx="7.9" ry="12.9" transform="rotate(-8.0 1483.4 470.7)"/>
<ellipse cx="1530.8" cy="463.2" rx="15.0" ry="28.3" transform="rotate(10.0 1530.8 463.2)"/>
<ellipse cx="1530.8" cy="463.2" rx="10.8" ry="24.1" transform="rotate(10.0 1530.8 463.2)"/>
<ellipse cx="1552.9" cy="458.2" rx="15.0" ry="27.5" transform="rotate(10.0 1552.9 458.2)"/>
<ellipse cx="1552.9" cy="458.2" rx="10.8" ry="23.3" transform="rotate(10.0 1552.9 458.2)"/>
<ellipse cx="1574.9" cy="452.8" rx="15.0" ry="26.6" transform="rotate(10.0 1574.9 452.8)"/>
<ellipse cx="1574.9" cy="452.8" rx="10.8" ry="22.5" transform="rotate(10.0 1574.9 452.8)"/>
<ellipse cx="1595.7" cy="447.4" rx="15.0" ry="25.8" transform="rotate(10.0 1595.7 447.4)"/>
<ellipse cx="1595.7" cy="447.4" rx="10.8" ry="21.6" transform="rotate(10.0 1595.7 447.4)"/>
<ellipse cx="1615.3" cy="442.4" rx="15.0" ry="25.0" transform="rotate(10.0 1615.3 442.4)"/>
<ellipse cx="1615.3" cy="442.4" rx="10.8" ry="20.8" transform="rotate(10.0 1615.3 442.4)"/>
<ellipse cx="1629.9" cy="439.1" rx="15.0" ry="24.1" transform="rotate(10.0 1629.9 439.1)"/>
<ellipse cx="1629.9" cy="439.1" rx="10.8" ry="20.0" transform="rotate(10.0 1629.9 439.1)"/>
</g>
<g stroke-width="2.2" fill="white" stroke="#000">
<path d="M1225.1 939.3L1299.6 977.3L1287.4 1001.7L1212.9 960.6Z"/>
<ellipse cx="1294.4" cy="988.9" rx="11.6" ry="13.7" transform="rotate(-25.0 1294.4 988.9)"/>
</g>
<g stroke-width="2.2" fill="none" stroke="#000">
<path d="M1225.1 939.3L1299.6 977.3"/>
<path d="M1212.9 960.6L1287.4 1001.7"/>
<ellipse cx="1294.4" cy="988.9" rx="7.3" ry="9.1" transform="rotate(-25.0 1294.4 988.9)"/>
<ellipse cx="1294.4" cy="988.9" rx="9.4" ry="11.6" transform="rotate(-25.0 1294.4 988.9)"/>
</g>
<g stroke-width="2.2" fill="white" stroke="#000">
<path d="M1209.9 922.6C1211.9 923.1 1218.5 923.3 1222.0 925.6C1225.1 927.6 1227.6 931.1 1228.1 934.7C1228.7 939.9 1227.6 945.4 1225.1 950.0C1222.3 955.0 1217.7 959.0 1212.9 962.1C1210.3 963.8 1205.3 963.4 1203.8 963.6"/>
</g>
<g stroke-width="2.8" fill="white" stroke="#000">
<ellipse cx="1206.2" cy="943.9" rx="15.8" ry="21.3" transform="rotate(-20.0 1206.2 943.9)"/>
</g>
<g stroke-width="2.2" fill="none" stroke="#000">
<path d="M1203.2 928.7C1202.5 931.2 1198.4 938.7 1199.2 943.9C1200.3 951.0 1206.8 960.3 1208.3 963.6"/>
<path d="M1223.5 939.3C1222.5 941.1 1218.3 945.9 1217.5 950.0C1216.7 954.0 1218.7 960.1 1219.0 962.1"/>
<path d="M1188.0 1231.9C1189.6 1229.0 1194.9 1220.6 1197.7 1214.5C1202.2 1204.6 1206.5 1194.5 1209.9 1184.1C1213.1 1174.2 1215.5 1164.0 1217.5 1153.7C1218.6 1147.7 1219.9 1141.5 1219.0 1135.5C1218.3 1131.0 1215.1 1127.2 1212.9 1123.3C1207.0 1113.0 1201.1 1102.8 1194.6 1092.9C1187.9 1082.5 1180.4 1072.7 1173.4 1062.5C1169.2 1056.5 1164.3 1050.8 1161.2 1044.2C1159.0 1039.5 1157.5 1034.2 1157.5 1029.0C1157.5 1023.8 1158.4 1018.2 1161.2 1013.8C1164.0 1009.6 1168.6 1006.5 1173.4 1004.7C1178.1 1002.8 1183.6 1002.2 1188.6 1003.2C1194.1 1004.3 1199.4 1007.2 1203.8 1010.8C1207.7 1014.0 1208.7 1020.1 1212.9 1022.9C1218.2 1026.5 1225.6 1025.7 1231.1 1029.0C1236.1 1032.0 1239.7 1036.8 1243.3 1041.2C1248.8 1047.9 1253.7 1055.2 1258.5 1062.5C1262.4 1068.4 1266.5 1074.2 1269.2 1080.7C1270.7 1084.5 1271.1 1088.8 1270.7 1092.9C1269.6 1103.2 1267.0 1113.3 1264.6 1123.3C1260.9 1138.6 1256.5 1153.7 1252.4 1168.9C1248.4 1184.1 1246.1 1199.9 1240.3 1214.5C1237.6 1221.2 1229.6 1229.0 1227.5 1231.9"/>
<path d="M1194.6 1234.3C1196.2 1231.0 1200.9 1221.2 1203.8 1214.5C1208.0 1204.5 1212.6 1194.5 1215.9 1184.1C1219.2 1174.2 1221.2 1163.9 1223.5 1153.7C1224.7 1148.7 1226.9 1143.7 1226.6 1138.5C1226.3 1134.2 1224.1 1130.1 1222.0 1126.4C1218.5 1119.9 1211.9 1111.1 1209.9 1108.1"/>
<path d="M1209.9 1254.1C1211.1 1251.0 1215.2 1242.0 1217.5 1235.8C1220.8 1226.8 1223.9 1217.7 1226.6 1208.5C1229.5 1198.4 1231.8 1188.2 1234.2 1178.1C1236.3 1169.0 1239.6 1160.0 1240.3 1150.7C1240.6 1146.5 1239.1 1142.3 1237.2 1138.5C1234.0 1132.0 1229.1 1126.4 1225.1 1120.3C1221.0 1114.2 1216.8 1108.2 1212.9 1102.0C1207.7 1094.0 1202.7 1085.8 1197.7 1077.7C1194.6 1072.7 1190.7 1068.0 1188.6 1062.5C1187.1 1058.7 1186.5 1054.4 1187.0 1050.3C1187.6 1046.0 1189.3 1041.8 1191.6 1038.2C1193.9 1034.5 1197.0 1031.2 1200.7 1029.0C1204.4 1026.8 1210.9 1026.0 1212.9 1025.4"/>
<path d="M1164.2 1015.3C1164.0 1017.6 1162.2 1024.5 1162.7 1029.0C1163.3 1034.3 1164.9 1039.5 1167.3 1044.2C1170.5 1050.8 1175.4 1056.4 1179.4 1062.5C1185.5 1071.6 1191.8 1080.6 1197.7 1089.9C1204.0 1099.8 1212.9 1115.2 1215.9 1120.3"/>
<path d="M1194.6 1050.3C1195.2 1048.3 1195.5 1041.7 1197.7 1038.2C1199.8 1034.8 1203.2 1032.1 1206.8 1030.5C1210.6 1028.9 1214.9 1028.4 1219.0 1029.0C1224.4 1029.9 1229.9 1031.7 1234.2 1035.1C1240.4 1040.1 1244.8 1046.9 1249.4 1053.4C1255.0 1061.1 1260.0 1069.3 1264.6 1077.7C1266.7 1081.5 1268.4 1087.8 1269.2 1089.9"/>
<path d="M1194.6 1050.3L1200.7 1074.6L1225.1 1120.3L1237.2 1126.4L1270.7 1092.9"/>
<path d="M1234.2 1117.2L1267.6 1089.9"/>
<ellipse cx="1187.0" cy="1032.1" rx="8.5" ry="9.7"/>
<ellipse cx="1218.4" cy="1055.8" rx="9.1" ry="10.6" transform="rotate(-20.0 1218.4 1055.8)"/>
<path d="M1212.9 1050.3C1213.1 1051.8 1212.7 1056.9 1214.4 1059.4C1216.1 1061.9 1220.8 1063.2 1222.0 1064.0"/>
<ellipse cx="1243.3" cy="1088.3" rx="11.6" ry="12.2"/>
<path d="M1240.3 1089.9L1252.4 1080.7"/>
<path d="M1240.3 1089.9L1241.8 1099.0"/>
<path d="M1365.0 965.2C1362.4 964.8 1354.9 962.3 1349.8 962.7C1342.5 963.3 1335.1 965.0 1328.5 968.2C1322.6 971.0 1317.3 975.3 1313.3 980.4C1309.0 985.7 1306.3 992.2 1304.1 998.6C1302.2 1004.5 1301.3 1010.7 1301.1 1016.9C1300.8 1024.0 1301.4 1031.1 1302.6 1038.2C1304.0 1046.4 1306.7 1054.4 1308.7 1062.5C1310.7 1070.6 1314.0 1078.5 1314.8 1086.8C1315.5 1094.9 1314.9 1103.2 1313.3 1111.1C1311.3 1120.6 1307.8 1129.6 1304.1 1138.5C1300.7 1146.9 1296.0 1154.7 1292.0 1162.8C1285.9 1175.0 1280.5 1187.5 1273.7 1199.3C1267.3 1210.6 1256.0 1226.5 1252.4 1231.9"/>
<path d="M1349.8 969.7C1347.2 970.5 1339.2 971.7 1334.5 974.3C1328.9 977.4 1323.5 981.5 1319.3 986.4C1315.7 990.8 1313.6 996.3 1311.7 1001.7C1310.0 1006.5 1308.9 1011.7 1308.7 1016.9C1308.4 1024.0 1309.0 1031.1 1310.2 1038.2C1311.6 1046.4 1314.3 1054.4 1316.3 1062.5C1318.3 1070.6 1321.6 1078.5 1322.4 1086.8C1323.1 1094.9 1322.3 1103.1 1320.9 1111.1C1319.2 1120.5 1316.6 1129.7 1313.3 1138.5C1310.0 1147.0 1305.2 1154.7 1301.1 1162.8C1295.0 1175.0 1289.6 1187.5 1282.8 1199.3C1276.4 1210.6 1265.1 1226.5 1261.6 1231.9"/>
<path d="M1365.0 965.2L1462.3 1015.3"/>
<path d="M1462.3 1015.3C1464.3 1017.1 1471.5 1021.5 1474.5 1026.0C1477.3 1030.4 1478.6 1035.9 1479.0 1041.2C1479.6 1048.3 1479.2 1055.6 1477.5 1062.5C1475.6 1070.0 1471.9 1076.9 1468.4 1083.8C1465.8 1088.6 1462.6 1093.1 1459.2 1097.5C1452.4 1106.3 1444.5 1114.3 1438.0 1123.3C1432.3 1131.0 1427.6 1139.4 1422.7 1147.6C1418.0 1155.6 1414.0 1164.1 1409.1 1172.0C1403.8 1180.3 1397.5 1187.9 1392.3 1196.3C1385.3 1207.9 1375.9 1226.0 1372.6 1231.9"/>
<path d="M1450.1 1092.9C1446.6 1097.5 1435.5 1110.8 1428.8 1120.3C1423.3 1128.1 1418.7 1136.5 1413.6 1144.6C1408.6 1152.7 1403.5 1160.8 1398.4 1168.9C1393.3 1177.0 1387.9 1184.9 1383.2 1193.3C1376.2 1205.9 1366.7 1225.4 1363.4 1231.9"/>
<path d="M1363.4 1115.7L1298.1 1231.9"/>
<path d="M1369.5 1123.3L1307.2 1231.9"/>
<path d="M1416.7 994.1C1413.6 993.3 1404.7 989.5 1398.4 989.5C1392.1 989.5 1385.9 991.5 1380.2 994.1C1374.5 996.6 1369.2 1000.2 1365.0 1004.7C1359.9 1010.0 1355.8 1016.3 1352.8 1022.9C1350.2 1028.6 1348.8 1034.9 1348.2 1041.2C1347.7 1047.3 1348.2 1053.5 1349.8 1059.4C1351.8 1066.9 1355.8 1073.6 1358.9 1080.7C1362.4 1088.9 1367.0 1096.6 1369.5 1105.1C1371.9 1112.9 1373.5 1121.2 1373.5 1129.4C1373.5 1135.6 1371.7 1141.8 1369.5 1147.6C1366.8 1155.1 1362.7 1162.0 1358.9 1168.9C1351.0 1183.3 1342.7 1197.4 1334.5 1211.5C1330.6 1218.4 1324.4 1228.5 1322.4 1231.9"/>
<path d="M1355.8 1044.2C1356.2 1047.3 1356.7 1056.6 1358.3 1062.5C1360.2 1069.8 1363.6 1076.7 1366.5 1083.8C1369.7 1091.4 1374.1 1098.6 1376.5 1106.6C1378.9 1114.5 1380.7 1122.7 1380.8 1130.9C1380.9 1137.6 1379.3 1144.4 1377.1 1150.7C1374.5 1158.2 1370.3 1165.0 1366.5 1172.0C1359.2 1185.3 1351.3 1198.4 1343.7 1211.5C1339.7 1218.3 1333.5 1228.5 1331.5 1231.9"/>
<path d="M1416.7 994.1L1462.3 1015.3"/>
<path d="M1398.4 983.4L1422.7 995.6"/>
<ellipse cx="1346.7" cy="1010.8" rx="18.2" ry="22.8" transform="rotate(-25.0 1346.7 1010.8)"/>
<path d="M1333.0 1022.9C1334.5 1024.5 1338.1 1030.7 1342.2 1032.1C1346.5 1033.5 1353.6 1030.8 1355.8 1030.5"/>
<ellipse cx="1396.9" cy="1035.1" rx="19.8" ry="23.7" transform="rotate(-25.0 1396.9 1035.1)"/>
<ellipse cx="1391.7" cy="1032.1" rx="13.7" ry="17.6" transform="rotate(-25.0 1391.7 1032.1)"/>
<path d="M1381.7 1041.2C1383.0 1042.7 1385.6 1048.9 1389.3 1050.3C1393.1 1051.8 1399.4 1049.0 1401.5 1048.8"/>
<ellipse cx="1438.0" cy="1057.9" rx="12.2" ry="14.0" transform="rotate(-20.0 1438.0 1057.9)"/>
<path d="M1428.8 1057.0L1447.1 1054.9"/>
<path d="M1358.9 1044.2L1456.2 1095.9"/>
<path d="M1323.9 1089.9L1365.0 1114.2"/>
<path d="M1307.2 1147.6L1392.3 1187.2"/>
<path d="M1392.3 1187.2L1398.4 1190.2"/>
<path d="M1304.1 1138.5L1311.7 1143.1"/>
<path d="M1425.8 1123.3L1431.9 1127.9"/>
<path d="M1404.5 1153.7L1410.6 1158.3"/>
<path d="M1188.0 1232.0C1186.5 1234.0 1183.1 1240.9 1179.4 1244.2C1175.0 1248.1 1169.8 1251.3 1164.2 1253.3C1155.4 1256.4 1146.0 1257.2 1136.9 1259.4C1126.7 1261.8 1116.4 1263.8 1106.4 1267.0C1099.1 1269.4 1091.8 1272.2 1085.2 1276.1C1078.6 1279.9 1072.2 1284.3 1066.9 1289.8C1059.9 1297.1 1054.3 1305.7 1048.7 1314.1C1042.1 1324.0 1035.9 1334.1 1030.4 1344.5C1025.8 1353.4 1021.5 1362.5 1018.2 1371.9C1015.9 1378.8 1014.0 1385.9 1013.7 1393.2C1013.5 1398.4 1014.3 1403.8 1016.7 1408.4C1019.1 1412.8 1023.1 1416.4 1027.4 1419.0C1031.9 1421.8 1037.3 1423.6 1042.6 1424.2C1050.6 1425.1 1058.8 1424.4 1066.9 1423.6C1077.1 1422.6 1087.5 1421.8 1097.3 1419.0C1103.9 1417.2 1110.4 1414.4 1115.6 1409.9C1121.9 1404.5 1126.2 1397.1 1130.8 1390.2C1137.3 1380.3 1143.0 1369.9 1149.0 1359.7C1156.2 1347.6 1163.3 1335.4 1170.3 1323.2C1178.5 1309.1 1186.4 1294.8 1194.6 1280.7C1200.6 1270.4 1206.3 1260.0 1212.9 1250.2C1217.3 1243.8 1225.1 1235.0 1227.5 1232.0"/>
<path d="M1197.7 1238.1C1195.4 1240.1 1189.2 1247.0 1184.0 1250.2C1177.9 1254.1 1171.1 1257.1 1164.2 1259.4C1155.3 1262.2 1145.9 1263.2 1136.9 1265.5C1127.2 1267.8 1117.4 1269.8 1108.0 1273.1C1101.1 1275.4 1094.5 1278.5 1088.2 1282.2C1082.2 1285.7 1076.2 1289.4 1071.5 1294.3C1064.5 1301.7 1058.9 1310.3 1053.2 1318.7C1047.0 1328.0 1041.2 1337.7 1035.9 1347.6C1031.4 1356.0 1026.9 1364.4 1023.7 1373.4C1021.5 1379.8 1020.0 1386.5 1019.8 1393.2C1019.6 1397.9 1020.5 1402.8 1022.8 1406.9C1024.8 1410.3 1028.4 1412.6 1031.9 1414.5C1036.2 1416.7 1040.8 1418.6 1045.6 1419.0C1053.2 1419.8 1060.9 1418.9 1068.4 1418.1C1077.6 1417.2 1086.9 1416.4 1095.8 1413.9C1101.8 1412.1 1107.8 1409.5 1112.5 1405.4C1118.8 1399.8 1123.1 1392.5 1127.7 1385.6C1134.3 1375.8 1139.9 1365.3 1146.0 1355.2C1153.0 1343.5 1160.3 1331.9 1167.3 1320.2C1175.0 1307.1 1182.2 1293.7 1190.1 1280.7C1195.4 1271.9 1204.0 1259.1 1206.8 1254.8"/>
<path d="M1206.8 1232.0C1204.8 1235.0 1199.3 1244.6 1194.6 1250.2C1192.1 1253.3 1187.0 1256.6 1185.5 1257.9"/>
<path d="M1185.5 1257.9L1206.8 1262.4"/>
<path d="M1252.4 1232.0C1245.8 1242.6 1225.4 1274.2 1212.9 1295.9C1202.0 1314.7 1192.4 1334.3 1182.5 1353.7C1172.1 1373.8 1161.8 1394.0 1152.1 1414.5C1143.5 1432.5 1135.7 1450.9 1127.7 1469.2C1121.5 1483.4 1114.6 1497.2 1109.5 1511.8C1106.0 1521.7 1103.7 1531.9 1101.9 1542.2C1100.5 1550.2 1099.5 1558.4 1099.8 1566.5C1100.0 1572.7 1101.1 1579.0 1103.4 1584.8C1105.4 1589.9 1108.6 1594.7 1112.5 1598.5C1115.9 1601.7 1120.2 1604.3 1124.7 1605.5C1128.6 1606.5 1133.2 1606.3 1136.9 1604.6C1140.8 1602.7 1143.5 1599.0 1146.0 1595.4C1148.2 1592.3 1149.8 1586.6 1150.5 1584.8"/>
<path d="M1261.6 1232.0C1255.0 1242.6 1234.5 1274.2 1222.0 1295.9C1211.2 1314.7 1201.5 1334.3 1191.6 1353.7C1181.3 1373.8 1170.9 1394.0 1161.2 1414.5C1152.6 1432.5 1144.9 1450.9 1136.9 1469.2C1130.7 1483.4 1124.0 1497.3 1118.6 1511.8C1114.9 1521.7 1111.9 1531.9 1109.5 1542.2C1107.8 1549.2 1106.4 1556.3 1106.4 1563.5C1106.4 1568.7 1107.6 1573.9 1109.5 1578.7C1111.2 1583.2 1113.9 1587.3 1117.1 1590.9C1119.1 1593.1 1123.4 1594.7 1124.7 1595.4"/>
<path d="M1298.1 1232.0C1291.5 1242.1 1271.7 1272.6 1258.5 1292.8C1245.3 1313.1 1231.8 1333.1 1219.0 1353.7C1206.4 1373.7 1194.3 1394.0 1182.5 1414.5C1172.0 1432.5 1161.9 1450.8 1152.1 1469.2C1144.6 1483.2 1137.1 1497.3 1130.8 1511.8C1126.5 1521.6 1122.7 1531.8 1120.1 1542.2C1118.2 1550.1 1116.8 1558.4 1117.1 1566.5C1117.3 1571.8 1120.1 1576.7 1121.7 1581.8C1122.6 1584.8 1124.2 1589.4 1124.7 1590.9"/>
<path d="M1307.2 1232.0C1300.6 1242.1 1280.8 1272.6 1267.6 1292.8C1254.5 1313.1 1240.9 1333.1 1228.1 1353.7C1215.6 1373.7 1203.5 1394.0 1191.6 1414.5C1181.1 1432.5 1171.0 1450.8 1161.2 1469.2C1153.7 1483.2 1146.3 1497.3 1139.9 1511.8C1135.6 1521.6 1132.3 1531.9 1129.3 1542.2C1127.2 1549.2 1125.4 1556.3 1124.7 1563.5C1123.8 1572.6 1124.7 1586.3 1124.7 1590.9"/>
<path d="M1322.4 1232.0C1316.8 1240.6 1299.6 1266.1 1288.9 1283.7C1279.3 1299.6 1270.8 1316.2 1261.6 1332.4C1251.6 1349.7 1241.4 1366.9 1231.1 1384.1C1220.1 1402.4 1208.8 1420.5 1197.7 1438.8C1188.5 1454.0 1179.1 1469.0 1170.3 1484.4C1162.9 1497.4 1155.5 1510.5 1149.0 1524.0C1144.3 1533.8 1139.9 1543.9 1136.9 1554.4C1134.8 1561.3 1134.1 1568.5 1133.8 1575.7C1133.6 1582.8 1135.1 1593.4 1135.3 1597.0"/>
<path d="M1331.5 1232.0C1326.4 1240.1 1310.9 1264.2 1301.1 1280.7C1291.6 1296.7 1282.8 1313.1 1273.7 1329.3C1263.5 1347.5 1253.8 1366.0 1243.3 1384.1C1232.5 1402.5 1220.9 1420.5 1209.9 1438.8C1200.7 1454.0 1191.3 1469.0 1182.5 1484.4C1175.1 1497.4 1167.7 1510.5 1161.2 1524.0C1156.5 1533.8 1151.3 1543.7 1149.0 1554.4C1147.1 1563.3 1149.7 1572.7 1149.0 1581.8C1148.7 1586.4 1146.5 1593.2 1146.0 1595.4"/>
<path d="M1363.4 1232.0C1358.6 1239.6 1344.6 1262.7 1334.5 1277.6C1324.8 1292.1 1314.3 1306.0 1304.1 1320.2C1294.0 1334.4 1283.6 1348.4 1273.7 1362.8C1263.3 1377.8 1253.4 1393.2 1243.3 1408.4C1233.2 1423.6 1222.8 1438.6 1212.9 1454.0C1204.5 1467.0 1196.4 1480.2 1188.6 1493.6C1182.2 1504.5 1176.0 1515.7 1170.3 1527.0C1165.9 1535.9 1161.7 1545.0 1158.2 1554.4C1155.6 1561.3 1153.9 1568.5 1152.1 1575.7C1151.3 1578.7 1150.8 1583.3 1150.5 1584.8"/>
<path d="M1372.6 1232.0C1367.8 1239.6 1353.6 1262.6 1343.7 1277.6C1333.8 1292.5 1323.4 1307.0 1313.3 1321.7C1303.1 1336.4 1292.9 1351.0 1282.8 1365.8C1272.6 1380.9 1262.6 1396.2 1252.4 1411.4C1242.3 1426.6 1231.9 1441.7 1222.0 1457.1C1213.7 1470.1 1205.5 1483.2 1197.7 1496.6C1191.3 1507.6 1185.3 1518.8 1179.4 1530.1C1174.7 1539.1 1169.8 1548.1 1165.8 1557.4C1162.7 1564.3 1161.7 1572.0 1158.2 1578.7C1156.5 1581.9 1151.8 1585.1 1150.5 1586.3"/>
<path d="M1104.9 1563.5C1106.2 1563.8 1110.1 1564.1 1112.5 1565.0C1115.3 1566.1 1118.9 1568.8 1120.1 1569.6"/>
<path d="M1133.8 1586.3C1135.3 1586.3 1139.9 1586.6 1142.9 1586.3C1145.5 1586.1 1149.3 1585.1 1150.5 1584.8"/>
</g>
<g stroke-width="2.2" fill="white" stroke="#000">
<path d="M1206.8 1301.3L1275.2 1328.7L1258.5 1362.8L1191.6 1332.4Z"/>
</g>
<g stroke-width="2.2" fill="none" stroke="#000">
<path d="M1225.1 1309.6L1212.9 1342.1"/>
<path d="M1252.4 1336.9L1261.6 1338.4L1260.0 1347.6L1250.9 1349.1"/>
<path d="M1246.4 1332.4L1243.3 1352.1"/>
<path d="M1209.9 1306.5L1270.7 1330.8"/>
</g>
<g stroke-width="7.54258" fill="none" stroke="#000">
<path d="M1331.9 766.2L1331.9 832.5"/>
</g>
<g stroke-width="3.14258" fill="none" stroke="#fff">
<path d="M1331.9 766.2L1331.9 832.5"/>
</g>
<g stroke-width="2.2" fill="none" stroke="#000">
<ellipse cx="1331.9" cy="764.9" rx="3.8" ry="1.5"/>
</g>
<g stroke-width="7.05596" fill="none" stroke="#000">
<ellipse cx="1336.8" cy="850.5" rx="13.6" ry="23.4" transform="rotate(-12.0 1336.8 850.5)"/>
</g>
<g stroke-width="2.65596" fill="none" stroke="#fff">
<ellipse cx="1336.8" cy="850.5" rx="13.6" ry="23.4" transform="rotate(-12.0 1336.8 850.5)"/>
</g>
<g stroke-width="7.05596" fill="none" stroke="#000">
<ellipse cx="1320.3" cy="853.7" rx="13.6" ry="23.4" transform="rotate(-12.0 1320.3 853.7)"/>
</g>
<g stroke-width="2.65596" fill="none" stroke="#fff">
<ellipse cx="1320.3" cy="853.7" rx="13.6" ry="23.4" transform="rotate(-12.0 1320.3 853.7)"/>
</g>
<g stroke-width="7.05596" fill="none" stroke="#000">
<ellipse cx="1302.7" cy="857.4" rx="14.0" ry="23.7" transform="rotate(-12.0 1302.7 857.4)"/>
</g>
<g stroke-width="2.65596" fill="none" stroke="#fff">
<ellipse cx="1302.7" cy="857.4" rx="14.0" ry="23.7" transform="rotate(-12.0 1302.7 857.4)"/>
</g>
<g stroke-width="7.05596" fill="none" stroke="#000">
<path d="M1281.1 837.3C1279.3 837.9 1273.3 838.8 1270.1 841.0C1267.0 843.0 1264.4 846.1 1262.8 849.5C1261.1 853.2 1260.8 857.5 1260.7 861.7C1260.6 866.1 1260.9 870.7 1262.2 875.0C1263.3 878.6 1265.0 882.2 1267.7 884.8C1271.5 888.4 1276.6 890.5 1281.1 893.3C1288.4 897.8 1295.7 902.2 1303.0 906.7C1309.5 910.6 1315.6 915.0 1322.5 918.2C1324.3 919.1 1326.6 919.4 1328.5 918.8C1330.5 918.3 1332.1 916.8 1333.4 915.2C1334.3 914.0 1334.6 911.6 1334.9 910.9"/>
</g>
<g stroke-width="2.65596" fill="none" stroke="#fff">
<path d="M1281.1 837.3C1279.3 837.9 1273.3 838.8 1270.1 841.0C1267.0 843.0 1264.4 846.1 1262.8 849.5C1261.1 853.2 1260.8 857.5 1260.7 861.7C1260.6 866.1 1260.9 870.7 1262.2 875.0C1263.3 878.6 1265.0 882.2 1267.7 884.8C1271.5 888.4 1276.6 890.5 1281.1 893.3C1288.4 897.8 1295.7 902.2 1303.0 906.7C1309.5 910.6 1315.6 915.0 1322.5 918.2C1324.3 919.1 1326.6 919.4 1328.5 918.8C1330.5 918.3 1332.1 916.8 1333.4 915.2C1334.3 914.0 1334.6 911.6 1334.9 910.9"/>
</g>
<g stroke-width="7.05596" fill="none" stroke="#000">
<ellipse cx="1278.1" cy="860.7" rx="17.0" ry="23.7" transform="rotate(-12.0 1278.1 860.7)"/>
</g>
<g stroke-width="2.65596" fill="none" stroke="#fff">
<ellipse cx="1278.1" cy="860.7" rx="17.0" ry="23.7" transform="rotate(-12.0 1278.1 860.7)"/>
</g>
<g stroke-width="2.2" fill="none" stroke="#000">
<ellipse cx="1334.9" cy="910.1" rx="3.4" ry="2.7" transform="rotate(-20.0 1334.9 910.1)"/>
</g>
<g stroke-width="6.95872" fill="none" stroke="#000">
<path d="M899.8 970.4C903.5 972.9 914.8 980.1 921.9 985.5C927.0 989.4 931.4 994.0 936.1 998.2C939.9 1001.5 944.0 1004.5 947.2 1008.3C949.1 1010.5 950.3 1013.2 951.2 1015.9C951.9 1018.4 951.8 1022.5 952.0 1023.8"/>
</g>
<g stroke-width="2.55872" fill="none" stroke="#fff">
<path d="M899.8 970.4C903.5 972.9 914.8 980.1 921.9 985.5C927.0 989.4 931.4 994.0 936.1 998.2C939.9 1001.5 944.0 1004.5 947.2 1008.3C949.1 1010.5 950.3 1013.2 951.2 1015.9C951.9 1018.4 951.8 1022.5 952.0 1023.8"/>
</g>
<g stroke-width="6.95872" fill="none" stroke="#000">
<path d="M935.0 1050.7C931.7 1055.2 918.4 1073.4 915.1 1077.9"/>
</g>
<g stroke-width="2.55872" fill="none" stroke="#fff">
<path d="M935.0 1050.7C931.7 1055.2 918.4 1073.4 915.1 1077.9"/>
</g>
<g stroke-width="1.4" fill="none" stroke="#000">
<ellipse cx="925.1" cy="1023.5" rx="24.4" ry="24.4"/>
<ellipse cx="924.9" cy="1024.0" rx="21.4" ry="21.8"/>
</g>
<g stroke-width="2.2" fill="none" stroke="#000">
<ellipse cx="925.1" cy="1023.3" rx="27.2" ry="27.2"/>
<ellipse cx="924.6" cy="1024.6" rx="18.2" ry="19.6"/>
<path d="M918.7 982.7L915.6 986.7"/>
<path d="M925.9 989.0L922.7 993.0"/>
<path d="M944.1 1004.8L940.1 1008.8"/>
<path d="M927.4 1057.8L933.0 1060.2"/>
<path d="M924.3 1062.6L929.0 1064.9"/>
<path d="M965.4 1038.8C963.8 1039.2 958.7 1039.5 955.9 1041.2C952.1 1043.6 948.7 1046.9 946.4 1050.7C944.1 1054.5 942.8 1059.0 942.5 1063.4C942.2 1067.1 943.3 1071.0 944.8 1074.4C946.2 1077.5 948.3 1080.5 951.2 1082.3C953.9 1084.1 957.4 1084.8 960.7 1084.7C964.5 1084.6 968.5 1083.6 971.7 1081.5C975.1 1079.5 977.5 1076.1 979.6 1072.8C981.8 1069.5 983.6 1065.7 984.4 1061.8C985.0 1058.7 984.6 1055.3 983.6 1052.3C982.9 1050.3 980.3 1048.3 979.6 1047.5"/>
<path d="M965.4 1038.8C965.7 1039.5 967.5 1041.5 967.0 1042.8C966.2 1044.9 963.9 1046.1 962.2 1047.5C959.7 1049.8 956.6 1051.3 954.3 1053.9C952.3 1056.2 950.4 1058.8 949.6 1061.8C949.0 1063.8 949.4 1066.2 950.4 1068.1C951.1 1069.6 952.7 1071.0 954.3 1071.3C956.0 1071.6 957.5 1069.2 959.1 1069.7C960.7 1070.2 961.0 1072.4 962.2 1073.6C963.2 1074.6 964.1 1076.0 965.4 1076.0C967.7 1076.0 970.0 1075.1 971.7 1073.6C973.9 1071.8 975.8 1069.3 976.5 1066.5C977.0 1064.4 975.9 1062.1 974.9 1060.2C974.2 1058.9 972.6 1058.2 971.7 1057.0C971.0 1056.1 969.9 1055.0 970.1 1053.9C970.5 1052.4 972.1 1051.5 973.3 1050.7C975.3 1049.4 978.6 1048.1 979.6 1047.5"/>
</g>
<g stroke-width="2.2" fill="white" stroke="#000">
<ellipse cx="993.1" cy="1095.8" rx="6.0" ry="5.2" transform="rotate(-57.6 993.1 1095.8)"/>
<path d="M989.9 1100.8L994.8 1104.8L1001.9 1093.6L996.2 1090.7Z"/>
<ellipse cx="998.5" cy="1099.1" rx="6.6" ry="5.9" transform="rotate(-57.6 998.5 1099.1)"/>
<ellipse cx="999.1" cy="1099.6" rx="9.2" ry="8.1" transform="rotate(-57.6 999.1 1099.6)"/>
<path d="M994.2 1107.3L1000.0 1111.4L1010.2 1095.5L1004.0 1091.8Z"/>
<ellipse cx="1005.1" cy="1103.4" rx="9.5" ry="8.4" transform="rotate(-57.6 1005.1 1103.4)"/>
<ellipse cx="1005.7" cy="1103.8" rx="7.6" ry="6.6" transform="rotate(-57.6 1005.7 1103.8)"/>
<path d="M1001.6 1110.2L1006.4 1113.2L1014.4 1100.4L1009.8 1097.4Z"/>
<ellipse cx="1010.5" cy="1106.9" rx="7.6" ry="6.6" transform="rotate(-57.6 1010.5 1106.9)"/>
</g>
<g stroke-width="3.2" fill="white" stroke="#000">
<ellipse cx="1011.1" cy="1107.2" rx="10.4" ry="9.2" transform="rotate(-57.6 1011.1 1107.2)"/>
<ellipse cx="1013.2" cy="1108.4" rx="10.4" ry="9.2" transform="rotate(-57.6 1013.2 1108.4)"/>
<ellipse cx="1015.1" cy="1109.7" rx="10.4" ry="9.2" transform="rotate(-57.6 1015.1 1109.7)"/>
<ellipse cx="1017.1" cy="1111.0" rx="10.4" ry="9.2" transform="rotate(-57.6 1017.1 1111.0)"/>
</g>
<g stroke-width="2.2" fill="white" stroke="#000">
<path d="M1012.1 1120.6L1028.5 1130.9L1039.9 1112.9L1023.6 1102.4Z"/>
</g>
<g stroke-width="3" fill="white" stroke="#000">
<ellipse cx="1034.2" cy="1121.9" rx="10.8" ry="9.5" transform="rotate(-57.6 1034.2 1121.9)"/>
</g>
<g stroke-width="2.2" fill="none" stroke="#000">
<ellipse cx="1034.2" cy="1121.9" rx="7.1" ry="7.9" transform="rotate(-20.0 1034.2 1121.9)"/>
<path d="M1029.5 1117.4L1035.8 1115.9L1039.7 1120.3L1038.2 1126.6L1031.8 1128.2L1028.2 1123.5Z"/>
<path d="M1057.1 1129.0C1057.9 1128.6 1060.1 1126.6 1061.9 1126.6C1064.6 1126.6 1067.5 1127.4 1069.8 1129.0C1072.2 1130.7 1074.3 1133.3 1075.3 1136.1C1076.2 1138.6 1076.2 1141.5 1075.3 1144.0C1074.3 1146.8 1072.2 1149.4 1069.8 1151.1C1067.5 1152.8 1064.7 1153.7 1061.9 1153.8C1059.4 1154.0 1056.9 1153.1 1054.8 1151.9C1053.6 1151.3 1052.8 1149.3 1052.4 1148.8"/>
<path d="M1057.1 1129.0C1057.3 1129.5 1056.9 1131.7 1057.9 1132.2C1059.1 1132.8 1060.5 1131.1 1061.9 1131.4C1063.9 1131.7 1066.0 1132.3 1067.4 1133.7C1068.8 1135.2 1069.6 1137.3 1069.8 1139.3C1069.9 1141.2 1069.3 1143.3 1068.2 1144.8C1067.1 1146.3 1065.3 1147.5 1063.5 1148.0C1061.6 1148.4 1059.8 1147.0 1057.9 1147.2C1056.7 1147.3 1055.9 1148.4 1054.8 1148.8C1054.0 1149.0 1052.8 1148.8 1052.4 1148.8"/>
</g>
<g stroke-width="0.1" fill="white" stroke="white">
<path d="M430.0 906.1L631.5 914.2L631.5 1080.0L473.8 1080.0L468.0 1066.4L461.4 1052.6L450.4 1028.5L438.8 1002.2L430.0 978.8Z"/>
</g>
<g stroke-width="2.8" fill="none" stroke="black">
<path d="M470.1 908.8L475.3 929.2"/>
<path d="M486.2 907.3L492.8 940.9"/>
<path d="M489.9 907.6L496.4 939.4"/>
<path d="M492.8 940.9L496.4 939.4"/>
</g>
<g stroke-width="3" fill="none" stroke="black">
<path d="M432.9 930.7C433.7 928.4 435.0 925.5 437.3 924.8L473.8 913.9C476.1 913.2 478.9 912.8 481.1 913.9C483.0 914.8 484.3 916.9 484.7 919.0C485.3 921.8 484.8 924.9 484.0 927.7C483.1 930.9 481.5 933.8 479.6 936.5C478.1 938.8 476.3 941.2 473.8 942.3L447.5 954.3C445.7 955.1 443.3 954.4 441.7 953.3C439.9 952.1 438.8 950.1 438.0 948.2L433.2 936.5C432.5 934.7 432.3 932.5 432.9 930.7Z"/>
</g>
<g stroke-width="2.8" fill="none" stroke="black">
<path d="M457.7 919.0C458.7 920.7 462.0 925.6 463.6 929.2C465.0 932.5 466.8 935.9 466.5 939.4C466.2 942.7 462.8 946.7 462.1 948.2"/>
<path d="M447.5 954.0C449.5 952.3 455.8 947.7 459.2 943.8C462.2 940.3 464.7 936.4 466.5 932.1C468.2 928.0 468.9 921.2 469.4 919.0"/>
<path d="M478.2 926.3L486.2 954.0"/>
<path d="M481.1 924.1L489.1 951.1"/>
<path d="M478.2 926.3L481.1 924.1"/>
<path d="M486.2 954.0L489.1 951.1"/>
<path d="M430.0 957.7L444.6 956.2L473.8 943.1"/>
</g>
<g stroke-width="3" fill="none" stroke="black">
<path d="M433.6 986.1L478.2 961.3C479.5 960.6 481.5 961.6 482.6 962.8C485.1 965.7 486.7 969.5 488.4 973.0C491.6 979.7 494.5 986.5 497.2 993.4C499.9 1000.6 502.2 1008.0 504.5 1015.3C506.1 1020.6 507.9 1025.9 508.8 1031.4C509.2 1033.3 509.1 1035.6 508.1 1037.2C507.0 1039.0 505.0 1040.2 503.0 1040.9L466.5 1053.3C464.8 1053.9 462.6 1053.1 461.4 1051.8C459.0 1049.4 457.7 1046.1 456.3 1043.1C452.1 1034.4 448.3 1025.6 444.6 1016.8C441.5 1009.6 438.5 1002.3 435.8 994.9C434.8 992.1 431.0 987.6 433.6 986.1Z"/>
</g>
<g stroke-width="4" fill="none" stroke="black">
<path d="M480.4 964.2C481.7 967.2 485.8 975.9 488.4 981.8C491.4 988.5 494.6 995.2 497.2 1002.2C499.5 1008.4 501.2 1014.8 503.0 1021.2C504.4 1026.0 506.0 1033.3 506.6 1035.8"/>
</g>
<g stroke-width="3.5" fill="none" stroke="black">
<path d="M430.0 978.8C431.5 982.7 435.6 994.5 438.8 1002.2C442.4 1011.1 446.5 1019.7 450.4 1028.5C454.1 1036.5 457.7 1044.5 461.4 1052.6C463.5 1057.2 465.8 1061.8 468.0 1066.4C470.0 1070.9 472.8 1077.7 473.8 1080.0"/>
</g>
<g stroke-width="2.8" fill="none" stroke="black">
<path d="M434.4 981.8L478.2 958.4"/>
</g>
<g stroke-width="3.5" fill="none" stroke="black">
<path d="M509.6 942.3C511.4 945.0 517.3 952.8 520.5 958.4C524.3 965.0 527.7 971.8 530.7 978.8C533.6 985.5 535.4 992.5 538.0 999.3C540.3 1005.2 542.7 1011.0 545.3 1016.8C547.6 1021.7 550.6 1026.3 552.6 1031.4C554.5 1036.1 555.9 1041.0 557.0 1046.0C557.9 1049.8 558.2 1055.7 558.5 1057.7"/>
</g>
<g stroke-width="2.8" fill="none" stroke="black">
<path d="M498.6 943.8C500.3 946.7 505.8 955.3 508.8 961.3C512.1 967.9 514.5 975.0 517.6 981.8C519.4 985.7 522.5 991.5 523.4 993.4"/>
<path d="M492.8 949.6C494.5 952.8 500.0 962.1 503.0 968.6C505.8 974.8 508.1 981.2 510.3 987.6C511.8 991.9 513.3 998.5 513.9 1000.7"/>
<path d="M496.4 939.4L509.6 942.3"/>
<path d="M505.9 939.4L534.4 929.2L543.9 942.3L551.2 943.8L566.5 937.2"/>
<path d="M509.6 943.8L532.2 935.0"/>
<path d="M546.8 931.4C547.0 930.8 547.3 928.6 548.2 927.7C549.9 926.3 551.9 925.2 554.1 924.8C556.5 924.4 559.2 924.5 561.4 925.5C563.6 926.6 565.2 928.6 566.5 930.7C567.7 932.6 568.3 936.1 568.7 937.2"/>
<ellipse cx="551.9" cy="937.2" rx="5.1" ry="3.2" transform="rotate(-20.0 551.9 937.2)"/>
<ellipse cx="552.6" cy="938.2" rx="2.9" ry="1.8" transform="rotate(-20.0 552.6 938.2)"/>
<path d="M534.4 929.2L532.2 921.9L511.8 914.6"/>
<path d="M511.8 914.6L498.6 917.5"/>
<path d="M529.3 975.9L548.2 967.2L554.1 975.9L559.9 993.4L540.9 1002.2"/>
<path d="M529.3 975.9L532.2 987.6L540.9 1002.2"/>
<path d="M554.1 975.9L590.6 958.4"/>
<path d="M558.5 987.6L584.7 975.9"/>
<path d="M511.8 996.4L530.7 987.6"/>
<path d="M538.0 1005.1L580.4 986.1"/>
<path d="M540.9 1009.5L581.8 990.5"/>
<path d="M542.4 1013.9L568.7 1002.2"/>
<path d="M511.8 1002.2C512.4 999.0 513.7 995.7 516.1 993.4C518.0 991.7 520.9 991.0 523.4 991.2C526.1 991.5 529.0 992.8 530.7 994.9C533.6 998.2 535.2 1002.5 536.6 1006.6C537.9 1010.3 538.8 1014.3 538.8 1018.2C538.8 1021.3 538.3 1024.6 536.6 1027.0C534.9 1029.3 532.1 1030.9 529.3 1031.4C526.4 1031.9 523.2 1031.3 520.5 1029.9C518.0 1028.7 516.0 1026.5 514.7 1024.1C513.0 1021.0 512.2 1017.4 511.8 1013.9C511.2 1010.0 510.9 1006.0 511.8 1002.2Z"/>
<ellipse cx="522.0" cy="1023.4" rx="8.8" ry="6.6" transform="rotate(-10.0 522.0 1023.4)"/>
<ellipse cx="522.0" cy="1024.1" rx="5.8" ry="4.1" transform="rotate(-10.0 522.0 1024.1)"/>
<ellipse cx="522.0" cy="1024.8" rx="2.6" ry="1.8" transform="rotate(-10.0 522.0 1024.8)"/>
<path d="M516.1 996.4L517.6 1016.8"/>
<path d="M545.3 1010.9L568.7 1000.7L573.1 1005.1L577.4 1024.1L555.5 1032.8"/>
<path d="M545.3 1010.9L551.2 1031.4L555.5 1046.0"/>
<path d="M568.7 1000.7L576.0 1002.2"/>
<path d="M555.5 1032.8L557.0 1057.7"/>
<path d="M577.4 1024.1L581.8 1046.0"/>
<path d="M565.8 1031.4L570.1 1046.0L576.0 1057.7"/>
<path d="M571.6 1029.9L578.9 1054.7"/>
<path d="M567.2 1034.3L570.1 1029.9L576.0 1040.1"/>
<path d="M551.2 1031.4L532.2 1038.7L530.7 1031.4"/>
<path d="M517.6 1050.4C518.6 1049.6 521.2 1046.9 523.4 1046.0C526.2 1044.9 529.2 1044.3 532.2 1044.5C535.3 1044.8 539.5 1047.0 540.9 1047.4"/>
</g>
<g stroke-width="4" fill="none" stroke="black">
<path d="M522.0 1051.8C523.4 1052.3 528.2 1052.9 530.7 1054.7C533.8 1057.0 536.1 1060.2 538.0 1063.5C539.6 1066.2 540.5 1070.8 540.9 1072.3"/>
<path d="M527.8 1048.9C529.5 1049.6 535.1 1051.1 538.0 1053.3C541.1 1055.6 543.4 1058.8 545.3 1062.0C546.9 1064.7 547.8 1069.3 548.2 1070.8"/>
<path d="M535.1 1046.0C536.8 1047.0 542.4 1049.2 545.3 1051.8C547.9 1054.2 549.5 1057.5 551.2 1060.6C552.4 1062.9 553.6 1066.7 554.1 1067.9"/>
</g>
<g stroke-width="2.8" fill="none" stroke="black">
<path d="M517.6 1046.0L520.5 1066.4L526.4 1070.8L540.9 1073.0"/>
<path d="M554.1 1067.9L557.0 1057.7"/>
<path d="M479.6 1080.0C480.1 1078.2 480.5 1072.4 482.6 1069.3C484.6 1066.2 487.9 1063.7 491.3 1062.0C495.9 1059.8 501.1 1059.3 505.9 1057.7C509.9 1056.3 515.6 1054.0 517.6 1053.3"/>
<ellipse cx="496.4" cy="1068.6" rx="4.1" ry="4.1"/>
<path d="M466.5 1059.1L508.8 1044.5"/>
<path d="M469.4 1062.0L511.8 1047.4"/>
<path d="M508.8 1031.4L517.6 1046.0"/>
<path d="M557.0 1057.7L589.1 1060.6L595.0 1080.0"/>
<path d="M549.7 1080.0L554.1 1072.3L589.1 1065.0"/>
</g>
<g stroke-width="3.5" fill="none" stroke="black">
<path d="M570.1 919.0C571.6 921.2 576.5 927.5 578.9 932.1C581.8 937.7 583.6 943.9 586.2 949.6C587.5 952.6 589.9 956.9 590.6 958.4"/>
<path d="M576.0 916.1C577.4 918.2 582.3 924.5 584.7 929.2C587.7 934.8 589.6 940.9 592.0 946.7C593.5 950.1 595.7 955.2 596.4 956.9"/>
<path d="M581.8 914.6C583.3 916.8 588.1 923.1 590.6 927.7C593.5 933.3 595.4 939.4 597.9 945.3C599.3 948.7 601.5 953.8 602.3 955.5"/>
</g>
<g stroke-width="2.8" fill="none" stroke="black">
<path d="M587.7 913.9C588.9 915.7 592.9 921.0 595.0 924.8C597.8 930.0 599.9 935.5 602.3 940.9C603.8 944.3 605.9 949.4 606.6 951.1"/>
<path d="M570.1 919.0C571.1 918.2 573.7 915.5 576.0 914.6C578.7 913.5 581.8 913.1 584.7 913.1C586.8 913.1 589.6 914.4 590.6 914.6"/>
<path d="M602.3 920.4C603.0 919.7 604.8 917.0 606.6 916.1C608.4 915.2 610.6 914.9 612.5 915.3C614.7 915.9 617.0 917.1 618.3 919.0C620.5 922.0 621.5 925.7 622.7 929.2C624.4 934.0 625.7 938.9 627.1 943.8C628.7 949.6 630.7 958.4 631.5 961.3"/>
<path d="M618.3 919.0C619.5 918.7 623.3 916.7 625.6 917.5C628.2 918.4 630.5 922.4 631.5 923.4"/>
<path d="M602.3 920.4C603.2 923.1 606.1 931.2 608.1 936.5C610.5 942.8 613.1 949.1 615.4 955.5C617.0 959.8 619.1 964.0 619.8 968.6C620.1 971.1 619.6 973.8 618.3 975.9C617.0 978.0 613.5 979.6 612.5 980.3"/>
<path d="M608.1 919.0C609.1 921.7 611.9 929.7 613.9 935.0C616.3 941.4 618.9 947.6 621.2 954.0C622.8 958.4 624.9 965.0 625.6 967.2"/>
<path d="M587.7 970.1L597.9 986.1L605.2 989.1L615.4 983.2"/>
<path d="M586.2 971.5C587.2 973.7 589.5 980.6 592.0 984.7C593.5 987.0 596.9 989.5 597.9 990.5"/>
<path d="M580.4 973.0L587.7 970.1"/>
<path d="M580.4 973.0L597.9 1041.6"/>
<path d="M584.7 970.1L600.8 1034.3"/>
<path d="M597.9 1002.2C598.9 1000.7 600.8 995.4 603.7 993.4C608.9 989.8 615.0 987.3 621.2 986.1C623.4 985.7 625.9 987.2 627.1 989.1C628.6 991.3 629.0 994.4 628.5 997.1C628.2 999.3 626.9 1001.7 624.9 1002.9C619.8 1006.0 610.9 1008.4 608.1 1009.5"/>
<path d="M597.9 1002.2C598.6 1005.1 600.4 1014.0 602.3 1019.7C603.9 1024.7 607.1 1031.9 608.1 1034.3"/>
<path d="M615.4 1005.1L625.6 1043.1"/>
<path d="M608.1 1034.3C607.1 1034.8 603.7 1035.6 602.3 1037.2C601.0 1038.8 600.1 1041.2 600.8 1043.1C601.8 1045.6 604.0 1048.2 606.6 1048.9C610.4 1049.9 614.6 1048.6 618.3 1047.4C621.0 1046.6 624.4 1043.8 625.6 1043.1"/>
<path d="M601.5 1002.2C602.1 1001.2 603.3 997.6 605.2 996.4C609.6 993.3 614.6 990.9 619.8 989.8C621.6 989.4 624.0 991.6 624.9 992.0"/>
</g>
<g stroke-width="4" fill="none" stroke="black">
<path d="M603.7 1010.9L609.6 1027.0"/>
<path d="M608.1 1009.5L612.5 1024.1"/>
</g>
<g stroke-width="2.8" fill="none" stroke="black">
<path d="M600.8 1051.8L621.2 1047.4L631.5 1044.5"/>
<path d="M605.2 1035.8L624.2 1029.9"/>
<path d="M606.6 1040.1L625.6 1034.3"/>
</g>
<g stroke-width="2.2" fill="none" stroke="black">
<path d="M843.7 880.0C837.7 888.3 820.5 913.8 808.0 930.0C780.4 965.6 737.6 1017.7 723.5 1035.2"/>
<path d="M848.0 880.0C842.2 888.3 825.4 913.9 813.0 930.0C785.0 966.2 741.2 1019.1 726.9 1036.9"/>
<path d="M851.7 880.0C845.9 888.3 829.1 913.9 816.7 930.0C788.4 966.9 744.2 1020.9 729.7 1039.1"/>
<path d="M857.0 880.0C851.2 888.3 834.6 913.9 822.3 930.0C793.3 967.7 747.9 1022.8 733.0 1041.3"/>
</g>
<g stroke-width="2.2" fill="white" stroke="black">
<path d="M718.5 988.3C721.5 984.4 725.5 981.5 729.1 978.3C733.5 974.4 738.7 971.4 742.5 967.1C744.7 964.6 745.1 960.9 747.0 958.2C748.8 955.6 751.1 953.2 753.7 951.5C757.1 949.1 761.5 948.3 764.9 945.9C767.9 943.8 770.2 940.8 772.7 938.1C774.3 936.3 775.3 933.9 777.1 932.5C778.7 931.2 780.7 930.0 782.7 930.2C784.6 930.5 786.2 932.0 787.2 933.6C788.9 936.3 789.9 939.4 790.5 942.5C790.8 944.0 790.9 945.8 790.0 947.0L733.6 1015.1C733.0 1015.8 731.7 1016.0 730.8 1015.7C729.6 1015.2 728.7 1014.0 728.0 1012.9C724.3 1006.3 720.7 999.8 718.0 992.8C717.4 991.4 717.6 989.5 718.5 988.3Z"/>
</g>
<g stroke-width="2.6" fill="none" stroke="black">
<path d="M783.8 945.9L732.5 1008.4C732.0 1009.0 730.9 1008.8 730.2 1008.4C729.4 1007.9 729.0 1007.0 728.6 1006.2C726.4 1001.8 723.8 997.5 722.4 992.8C722.1 991.6 722.7 990.2 723.5 989.4L778.3 942.5C779.1 941.8 780.7 942.0 781.6 942.5C782.8 943.2 784.7 944.8 783.8 945.9Z"/>
</g>
<g stroke-width="2.2" fill="none" stroke="black">
<path d="M777.1 947.0L729.1 1000.6"/>
<path d="M785.5 948.1L735.8 1010.6"/>
<path d="M777.1 932.5L780.5 943.6L786.1 945.9L790.5 942.5"/>
<path d="M780.5 943.6L778.3 947.0"/>
<path d="M782.7 930.2L785.5 940.3"/>
<path d="M692.3 977.1L726.9 1039.7L733.6 1060.0"/>
<path d="M695.6 977.1L729.7 1038.6"/>
<path d="M687.8 971.6L709.0 962.6"/>
<path d="M690.0 974.9L712.4 966.0"/>
<path d="M680.0 960.4L687.8 971.6L692.3 977.1"/>
<path d="M680.0 995.0C681.9 996.3 688.1 999.4 691.2 1002.8C695.0 1007.0 696.9 1012.6 700.1 1017.3C701.7 1019.7 704.8 1022.9 705.7 1024.0"/>
<path d="M680.0 1040.8L713.5 1036.3"/>
</g>
<g font-size="30.7" text-anchor="middle" stroke="#111" stroke-width="0.7" opacity="0.995">
<text transform="translate(1211.5 268) scale(0.78 1)">1</text>
<text transform="translate(739.7 345) scale(0.78 1)">2</text>
<text transform="translate(805 452) scale(0.78 1)">2</text>
<text transform="translate(500.4 474) scale(0.78 1)">2</text>
<text transform="translate(809.4 587) scale(0.78 1)">2</text>
<text transform="translate(928 668) scale(0.78 1)">2</text>
<text transform="translate(1219.3 452.2) scale(0.84 1)" letter-spacing="2">1 - pushrod assy</text>
<text transform="translate(1381.3 827.6) scale(0.82 1)">3, 4</text>
<text transform="translate(1164.5 919.5) scale(0.78 1)">4</text>
<text transform="translate(948.2 975.6) scale(0.78 1)">5</text>
<text transform="translate(1002.6 1033) scale(0.78 1)">5</text>
<text transform="translate(1050.6 1088.7) scale(0.78 1)">5</text>
<text transform="translate(1103.6 1120.6) scale(0.78 1)">5</text>
<text transform="translate(1142.6 1210) scale(0.78 1)">5</text>
<text transform="translate(1435.2 1186.6) scale(0.78 1)">4</text>
</g>

</svg>
</body></html>
